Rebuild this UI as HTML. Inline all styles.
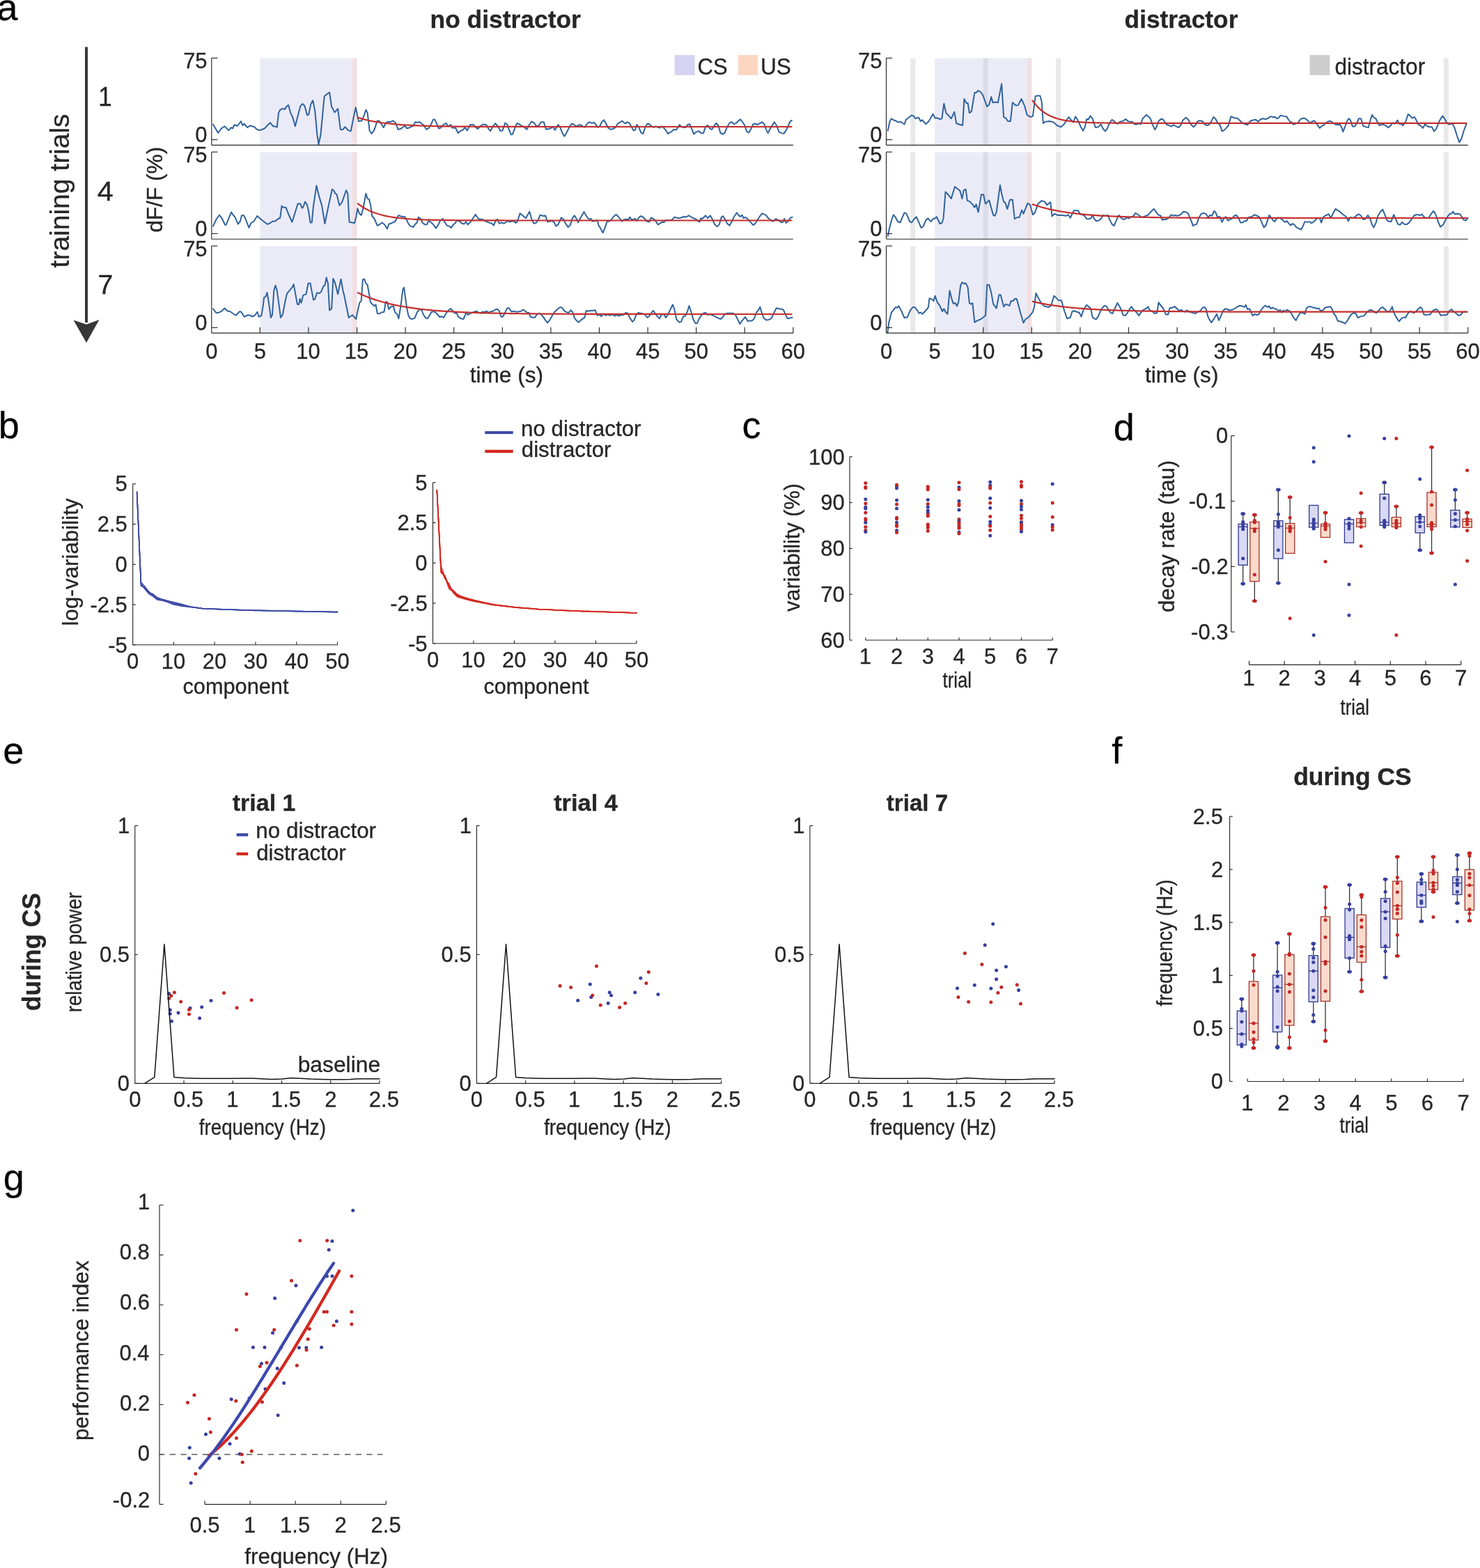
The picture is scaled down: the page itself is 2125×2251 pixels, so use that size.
<!DOCTYPE html>
<html><head><meta charset="utf-8"><title>figure</title>
<style>
html,body{margin:0;padding:0;background:#fff;}
svg{display:block;}
text{font-family:"Liberation Sans",Arial,Helvetica,sans-serif;stroke:#262626;stroke-width:0.3px;}
</style></head>
<body>
<svg width="2125" height="2251" viewBox="0 0 2125 2251">
<rect x="0" y="0" width="2125" height="2251" fill="#fff"/>
<text x="-4.63" y="29" font-size="54" fill="#000">a</text>
<rect x="373.38" y="83.65" width="132.21" height="124.7" fill="#ebebf8"/>
<rect x="505.6" y="83.65" width="6.96" height="124.7" fill="#f1dfe3"/>
<rect x="373.38" y="218.5" width="132.21" height="124.7" fill="#ebebf8"/>
<rect x="505.6" y="218.5" width="6.96" height="124.7" fill="#f1dfe3"/>
<rect x="373.38" y="353.4" width="132.21" height="124.7" fill="#ebebf8"/>
<rect x="505.6" y="353.4" width="6.96" height="124.7" fill="#f1dfe3"/>
<rect x="1342.1" y="83.65" width="132.24" height="124.7" fill="#ebebf8"/>
<rect x="1474.34" y="83.65" width="6.96" height="124.7" fill="#f1dfe3"/>
<rect x="1307.3" y="83.65" width="6.96" height="124.7" fill="#e9e9ea"/>
<rect x="1516.1" y="83.65" width="6.96" height="124.7" fill="#e9e9ea"/>
<rect x="2072.9" y="83.65" width="6.96" height="124.7" fill="#e9e9ea"/>
<rect x="1411.7" y="83.65" width="6.96" height="124.7" fill="#dcdce9"/>
<rect x="1342.1" y="218.5" width="132.24" height="124.7" fill="#ebebf8"/>
<rect x="1474.34" y="218.5" width="6.96" height="124.7" fill="#f1dfe3"/>
<rect x="1307.3" y="218.5" width="6.96" height="124.7" fill="#e9e9ea"/>
<rect x="1516.1" y="218.5" width="6.96" height="124.7" fill="#e9e9ea"/>
<rect x="2072.9" y="218.5" width="6.96" height="124.7" fill="#e9e9ea"/>
<rect x="1411.7" y="218.5" width="6.96" height="124.7" fill="#dcdce9"/>
<rect x="1342.1" y="353.4" width="132.24" height="124.7" fill="#ebebf8"/>
<rect x="1474.34" y="353.4" width="6.96" height="124.7" fill="#f1dfe3"/>
<rect x="1307.3" y="353.4" width="6.96" height="124.7" fill="#e9e9ea"/>
<rect x="1516.1" y="353.4" width="6.96" height="124.7" fill="#e9e9ea"/>
<rect x="2072.9" y="353.4" width="6.96" height="124.7" fill="#e9e9ea"/>
<rect x="1411.7" y="353.4" width="6.96" height="124.7" fill="#dcdce9"/>
<polyline points="305.97,178.51 313.13,190.75 317.91,184.48 322.39,181.19 328.36,187.16 332.09,182.99 334.03,184.48 336.57,179.25 341.04,180.75 345.97,174.03 348.51,180 350.75,177.76 355.22,182.99 358.96,180.3 362.69,181.49 365.67,182.24 367.91,185.22 370.9,186.72 374.63,186.72 377.61,185.22 379.85,184.48 383.58,180.3 388.06,176.27 392.54,181.49 395.52,181.49 397.76,182.69 400,162.09 402.24,157.61 405.97,155.82 408.96,156.87 411.19,153.13 414.18,150.9 417.16,162.09 420.15,168.06 423.88,181.19 428.36,163.58 431.34,152.39 434.33,148.96 437.31,151.64 441.04,165.37 443.28,164.33 446.27,149.4 449.25,144.18 452.24,159.1 455.22,191.94 457.46,207.16 460.45,193.43 463.43,162.09 465.67,138.21 470.15,134.48 473.13,132.54 476.12,153.13 480.6,161.34 485.07,156.12 488.81,185.97 491.79,186.27 495.52,182.24 500,187.16 503.73,188.21 507.46,169.55 510.75,154.18 514.93,174.33 519.4,173.28 522.39,166.57 525.37,157.61 527.61,162.09 530.6,187.46 533.58,191.94 537.31,186.72 541.79,173.28 544.78,174.03 547.76,178.51 550.75,182.99 553.73,177.01 556.72,174.78 559.7,175.52 564.18,173.28 567.91,176.27 571.64,185.97 576.12,184.48 580,181.49 581.08,180.05 584.12,184.31 587.15,183.55 590.19,182.03 593.23,180.51 596.27,175.19 599.31,175.95 602.35,174.89 605.38,177.47 608.42,179.75 612.22,185.83 616.02,183.55 619.06,178.23 622.09,171.39 624.37,171.85 627.41,178.23 629.69,184.31 632.73,183.55 635.77,179.75 640.33,176.71 643.36,181.27 647.16,178.99 649.44,183.55 654,183.55 657.8,191.14 660.83,188.11 664.63,186.59 667.67,182.79 670.71,187.35 675.27,178.99 679.82,178.99 682.86,182.79 685.9,185.07 690.46,180.51 693.5,178.53 698.05,178.99 701.09,184.31 704.13,188.11 707.17,182.79 710.97,177.01 714.77,181.27 718.56,188.11 721.6,187.35 725.4,176.41 728.44,178.99 730.72,185.83 733.76,193.42 736.03,192.66 739.07,184.31 742.11,177.01 745.15,178.23 748.95,180.51 752.75,182.79 756.54,185.83 759.58,179.75 763.38,174.43 767.18,176.71 770.22,181.27 773.25,180.51 777.05,175.19 780.85,175.19 783.89,185.83 786.93,185.07 790.72,184.31 793.76,182.03 796.8,186.59 801.36,178.99 804.4,182.79 807.44,191.14 810.47,195.7 813.51,190.38 818.07,181.27 821.11,177.47 824.15,178.99 827.95,181.27 831.74,178.99 835.54,180.51 839.34,182.79 842.38,178.23 846.18,175.19 849.21,176.71 853.01,175.95 856.81,180.51 858.04,182.79 861.08,181.27 864.12,175.19 867.15,172.15 870.19,177.47 873.23,183.55 877.03,185.83 880.07,185.07 883.86,182.79 886.9,177.47 889.94,175.95 892.98,173.67 896.02,175.95 898.3,177.47 900.58,175.19 903.61,176.71 906.65,182.03 909.69,187.35 911.97,186.59 914.25,178.99 917.29,182.79 920.33,190.38 923.36,191.9 926.4,182.79 929.44,177.47 932.48,178.23 935.52,181.27 938.56,182.79 941.59,181.27 944.63,182.79 947.67,183.55 950.71,181.27 953.75,184.31 956.79,188.11 959.06,191.9 961.34,190.38 964.38,188.86 967.42,185.83 970.46,186.59 973.5,182.79 975.78,178.99 978.05,182.03 981.09,182.79 984.13,183.09 987.17,178.99 990.21,178.23 993.25,185.07 996.28,192.66 999.32,189.62 1003.12,188.11 1006.92,191.14 1009.96,191.14 1013,182.03 1016.03,179.75 1019.07,184.31 1022.11,185.83 1025.15,181.27 1028.19,176.71 1031.23,179.75 1034.26,190.38 1037.3,192.66 1040.34,191.14 1044.14,182.03 1047.94,175.95 1050.98,175.19 1054.01,178.23 1057.05,176.71 1060.09,173.67 1063.13,171.39 1066.17,175.19 1069.21,179.75 1072.24,188.86 1075.28,190.38 1078.32,185.07 1081.36,178.23 1084.4,177.47 1087.44,178.99 1090.47,177.47 1094.27,175.19 1097.31,178.23 1100.35,186.59 1102.63,191.14 1105.67,185.07 1111.74,175.19 1114.78,179.75 1118.58,189.62 1122.38,191.14 1125.42,191.9 1128.45,187.35 1131.49,181.27 1134.53,174.43 1136.81,172.91" fill="none" stroke="#30639c" stroke-width="2" stroke-linejoin="round" stroke-linecap="round"/>
<polyline points="513.73,168.81 517.21,169.86 520.69,170.83 524.17,171.72 527.65,172.55 531.13,173.3 534.61,174 538.09,174.64 541.57,175.23 545.04,175.77 548.52,176.27 552,176.72 555.48,177.15 558.96,177.53 562.44,177.89 565.92,178.22 569.4,178.52 572.88,178.8 576.36,179.06 579.84,179.29 583.32,179.51 586.8,179.71 590.27,179.89 593.75,180.06 597.23,180.21 600.71,180.36 604.19,180.49 607.67,180.61 611.15,180.72 614.63,180.82 618.11,180.92 621.59,181 625.07,181.08 628.55,181.16 632.03,181.22 635.51,181.29 638.98,181.34 642.46,181.4 645.94,181.44 649.42,181.49 652.9,181.53 656.38,181.57 659.86,181.6 663.34,181.63 666.82,181.66 670.3,181.69 673.78,181.71 677.26,181.74 680.74,181.76 684.21,181.78 687.69,181.8 691.17,181.81 694.65,181.83 698.13,181.84 701.61,181.85 705.09,181.87 708.57,181.88 712.05,181.89 715.53,181.89 719.01,181.9 722.49,181.91 725.97,181.92 729.44,181.92 732.92,181.93 736.4,181.94 739.88,181.94 743.36,181.95 746.84,181.95 750.32,181.95 753.8,181.96 757.28,181.96 760.76,181.96 764.24,181.97 767.72,181.97 771.2,181.97 774.68,181.97 778.15,181.98 781.63,181.98 785.11,181.98 788.59,181.98 792.07,181.98 795.55,181.98 799.03,181.99 802.51,181.99 805.99,181.99 809.47,181.99 812.95,181.99 816.43,181.99 819.91,181.99 823.38,181.99 826.86,181.99 830.34,181.99 833.82,181.99 837.3,181.99 840.78,181.99 844.26,182 847.74,182 851.22,182 854.7,182 858.18,182 861.66,182 865.14,182 868.61,182 872.09,182 875.57,182 879.05,182 882.53,182 886.01,182 889.49,182 892.97,182 896.45,182 899.93,182 903.41,182 906.89,182 910.37,182 913.85,182 917.32,182 920.8,182 924.28,182 927.76,182 931.24,182 934.72,182 938.2,182 941.68,182 945.16,182 948.64,182 952.12,182 955.6,182 959.08,182 962.55,182 966.03,182 969.51,182 972.99,182 976.47,182 979.95,182 983.43,182 986.91,182 990.39,182 993.87,182 997.35,182 1000.83,182 1004.31,182 1007.78,182 1011.26,182 1014.74,182 1018.22,182 1021.7,182 1025.18,182 1028.66,182 1032.14,182 1035.62,182 1039.1,182 1042.58,182 1046.06,182 1049.54,182 1053.02,182 1056.49,182 1059.97,182 1063.45,182 1066.93,182 1070.41,182 1073.89,182 1077.37,182 1080.85,182 1084.33,182 1087.81,182 1091.29,182 1094.77,182 1098.25,182 1101.72,182 1105.2,182 1108.68,182 1112.16,182 1115.64,182 1119.12,182 1122.6,182 1126.08,182 1129.56,182 1133.04,182 1136.52,182" fill="none" stroke="#c42e2c" stroke-width="2.2" stroke-linejoin="round" stroke-linecap="round"/>
<polyline points="305.97,324.7 310.45,315 314.93,308.73 318.66,313.51 323.13,322.76 324.63,322.76 328.36,313.51 332.09,304.55 335.07,309.03 337.31,311.27 341.79,321.72 344.78,317.99 347.01,309.33 350,309.33 352.24,313.51 357.46,326.94 360.45,320.22 364.18,317.99 369.4,310.07 373.13,313.51 377.61,317.24 383.58,321.72 386.57,320.97 391.04,317.99 395.52,317.24 399.25,314.25 402.24,312.76 404.48,295.6 406.72,297.84 410.45,297.84 414.93,309.03 419.4,318.73 423.88,304.55 427.61,292.61 431.34,292.61 433.58,298.58 435.07,297.84 438.06,289.63 441.04,294.1 443.28,304.55 445.52,319.48 447.76,319.48 450,295.6 454.48,266.49 457.46,279.18 460.45,289.63 461.94,294.1 466.42,320.97 471.64,295.6 476.87,271.72 479.1,273.21 481.34,277.69 483.58,279.18 487.31,294.85 491.04,290.37 497.01,273.21 499.25,277.69 501.49,318.73 505.22,319.48 508.96,320.22 511.19,312.01 513.43,299.33 515.67,306.04 518.66,309.03 521.64,298.58 525.37,277.69 527.61,285.15 529.85,285.9 532.09,294.1 534.33,310.52 537.31,313.51 541.79,323.96 544.78,322.46 548.51,319.48 552.24,322.46 555.97,328.43 558.21,321.72 562.69,320.22 567.16,317.99 572.39,309.03 575.37,310.52 580,311.27 581.08,310.95 584.12,316.27 587.15,322.35 589.43,324.62 593.23,326.14 596.27,321.59 598.55,320.07 600.83,311.71 603.86,313.99 606.9,320.07 609.94,322.35 612.98,322.35 615.26,317.03 618.3,318.55 622.09,322.35 625.89,327.66 628.93,323.11 631.97,317.03 635.77,313.99 638.81,319.31 641.84,323.86 644.88,324.62 647.92,326.9 650.96,322.35 654,320.07 655.52,316.27 660.07,317.79 663.11,320.83 666.15,321.59 669.19,318.55 671.47,322.35 675.27,319.31 679.06,313.23 682.86,307.91 686.66,313.99 689.7,314.75 692.74,314.75 695.78,317.03 699.57,318.55 703.37,320.07 706.41,320.83 708.69,323.56 711.73,317.03 714.01,314.75 717.04,320.83 720.08,319.31 723.12,320.83 726.16,319.31 728.44,317.03 731.48,318.55 734.51,317.79 738.31,317.79 740.59,320.07 742.87,317.79 746.67,306.39 750.47,309.43 755.02,313.23 760.34,303.81 763.38,314.75 766.42,320.83 769.46,320.07 772.49,316.27 775.53,308.67 778.57,309.43 780.85,310.19 783.13,309.43 786.17,318.55 789.21,317.79 792.24,317.03 795.28,318.55 798.32,324.62 801.36,322.35 805.92,312.47 808.96,314.75 811.99,320.83 815.79,326.14 818.83,323.11 821.87,313.23 824.91,309.43 827.19,313.23 830.22,319.31 833.26,313.23 838.58,304.12 842.38,310.95 845.42,314.75 848.45,313.99 850.73,317.79 854.53,317.03 857.57,316.27 859.56,323.86 861.84,326.9 865.63,334.2 868.67,326.9 871.71,317.79 874.75,317.79 877.79,315.51 880.83,310.95 884.62,307.91 887.66,310.95 890.7,314.75 892.98,317.79 895.26,315.51 899.06,314.75 902.09,315.51 904.37,311.71 906.65,315.51 909.69,314.75 911.97,313.99 914.25,317.03 917.29,312.47 919.57,310.19 922.6,310.95 925.64,313.99 928.68,317.79 932.48,318.55 934.76,312.47 937.8,313.99 940.83,316.27 944.63,322.35 947.67,320.83 950.71,318.55 952.99,319.31 956.03,316.27 959.82,316.27 962.86,316.27 965.9,314.75 968.18,311.71 971.22,312.47 975.02,313.23 978.05,312.47 981.85,310.95 984.89,311.71 989.45,309.43 992.49,311.71 995.53,313.23 999.32,314.75 1001.6,317.03 1004.64,318.55 1006.16,313.23 1008.44,313.99 1013,309.43 1016.03,313.23 1019.83,309.43 1022.87,314.75 1025.91,321.59 1029.71,325.38 1032.75,322.35 1035.78,311.71 1038.06,310.19 1041.1,314.75 1044.14,320.83 1047.18,323.86 1050.22,319.31 1054.01,310.95 1057.81,305.33 1060.85,309.43 1063.13,310.95 1065.41,308.67 1067.69,313.23 1069.97,311.71 1073,313.99 1076.8,317.79 1081.36,323.11 1084.4,320.83 1088.2,314.75 1091.23,310.19 1094.27,306.39 1097.31,307.91 1099.59,308.67 1101.87,311.71 1105.67,315.51 1110.22,317.79 1114.02,313.99 1117.82,316.27 1121.62,319.31 1124.66,318.55 1126.18,313.99 1128.45,320.07 1131.49,317.79 1134.53,313.23 1137.57,311.71" fill="none" stroke="#30639c" stroke-width="2" stroke-linejoin="round" stroke-linecap="round"/>
<polyline points="513.73,292.31 517.21,294.91 520.69,297.23 524.17,299.3 527.65,301.15 531.13,302.8 534.61,304.27 538.09,305.58 541.57,306.76 545.04,307.8 548.52,308.74 552,309.57 555.48,310.31 558.96,310.98 562.44,311.57 565.92,312.1 569.4,312.57 572.88,313 576.36,313.37 579.84,313.71 583.32,314.01 586.8,314.28 590.27,314.51 593.75,314.73 597.23,314.92 600.71,315.09 604.19,315.24 607.67,315.38 611.15,315.5 614.63,315.6 618.11,315.7 621.59,315.79 625.07,315.86 628.55,315.93 632.03,315.99 635.51,316.05 638.98,316.1 642.46,316.14 645.94,316.18 649.42,316.21 652.9,316.24 656.38,316.27 659.86,316.3 663.34,316.32 666.82,316.34 670.3,316.35 673.78,316.37 677.26,316.38 680.74,316.4 684.21,316.41 687.69,316.42 691.17,316.43 694.65,316.43 698.13,316.44 701.61,316.45 705.09,316.45 708.57,316.46 712.05,316.46 715.53,316.47 719.01,316.47 722.49,316.47 725.97,316.48 729.44,316.48 732.92,316.48 736.4,316.48 739.88,316.49 743.36,316.49 746.84,316.49 750.32,316.49 753.8,316.49 757.28,316.49 760.76,316.49 764.24,316.49 767.72,316.49 771.2,316.49 774.68,316.5 778.15,316.5 781.63,316.5 785.11,316.5 788.59,316.5 792.07,316.5 795.55,316.5 799.03,316.5 802.51,316.5 805.99,316.5 809.47,316.5 812.95,316.5 816.43,316.5 819.91,316.5 823.38,316.5 826.86,316.5 830.34,316.5 833.82,316.5 837.3,316.5 840.78,316.5 844.26,316.5 847.74,316.5 851.22,316.5 854.7,316.5 858.18,316.5 861.66,316.5 865.14,316.5 868.61,316.5 872.09,316.5 875.57,316.5 879.05,316.5 882.53,316.5 886.01,316.5 889.49,316.5 892.97,316.5 896.45,316.5 899.93,316.5 903.41,316.5 906.89,316.5 910.37,316.5 913.85,316.5 917.32,316.5 920.8,316.5 924.28,316.5 927.76,316.5 931.24,316.5 934.72,316.5 938.2,316.5 941.68,316.5 945.16,316.5 948.64,316.5 952.12,316.5 955.6,316.5 959.08,316.5 962.55,316.5 966.03,316.5 969.51,316.5 972.99,316.5 976.47,316.5 979.95,316.5 983.43,316.5 986.91,316.5 990.39,316.5 993.87,316.5 997.35,316.5 1000.83,316.5 1004.31,316.5 1007.78,316.5 1011.26,316.5 1014.74,316.5 1018.22,316.5 1021.7,316.5 1025.18,316.5 1028.66,316.5 1032.14,316.5 1035.62,316.5 1039.1,316.5 1042.58,316.5 1046.06,316.5 1049.54,316.5 1053.02,316.5 1056.49,316.5 1059.97,316.5 1063.45,316.5 1066.93,316.5 1070.41,316.5 1073.89,316.5 1077.37,316.5 1080.85,316.5 1084.33,316.5 1087.81,316.5 1091.29,316.5 1094.77,316.5 1098.25,316.5 1101.72,316.5 1105.2,316.5 1108.68,316.5 1112.16,316.5 1115.64,316.5 1119.12,316.5 1122.6,316.5 1126.08,316.5 1129.56,316.5 1133.04,316.5 1136.52,316.5" fill="none" stroke="#c42e2c" stroke-width="2.2" stroke-linejoin="round" stroke-linecap="round"/>
<polyline points="305.97,443.28 310.45,449.25 314.93,448.51 318.66,446.27 322.39,442.54 326.87,446.72 329.85,446.72 334.33,450 338.81,452.69 344.03,447.31 346.27,447.76 350.75,454.78 355.97,452.24 359.7,452.99 362.69,454.48 365.67,452.99 369.4,447.76 371.64,454.78 375.37,452.99 377.61,439.55 379.1,426.87 381.34,426.12 383.58,420.15 385.82,433.58 388.81,455.97 391.04,451.49 393.28,417.16 395.52,409.7 397.76,417.16 400,433.58 402.99,455.97 405.97,451.49 408.96,435.07 411.94,421.64 415.67,417.16 419.4,412.69 421.64,408.21 423.88,420.15 426.87,436.57 429.1,437.31 430.6,429.1 432.54,434.78 434.33,427.61 435.07,423.88 439.55,422.39 442.54,406.72 445.52,406.72 447.76,418.66 450,430.6 452.24,429.1 455.22,420.15 458.96,420.9 461.19,418.66 464.18,411.19 466.42,409.7 468.66,398.51 470.9,406.72 473.13,445.52 476.12,443.28 478.36,400 481.34,406.72 485.07,422.39 489.55,400.75 492.54,417.91 494.03,423.13 497.01,438.06 500.75,455.97 505.97,452.24 511.19,458.21 513.43,447.01 516.42,434.33 518.66,432.09 520.9,401.49 523.13,400.75 525.37,406.72 527.61,408.96 530.6,425.37 532.09,434.33 537.31,439.25 539.55,437.31 541.79,450 544.78,450.3 547.76,448.51 551.49,447.76 553.73,433.58 555.97,433.58 558.21,444.03 561.19,440.3 564.93,439.55 567.16,448.51 570.15,450.75 572.39,457.46 575.37,439.55 578.36,415.67 580,412.69 584.12,442.15 586.39,452.79 588.67,457.04 591.71,458.11 595.51,456.59 599.31,447.47 602.35,444.43 605.38,444.43 607.66,451.27 611.46,456.59 613.74,457.35 616.78,452.79 619.82,447.47 623.61,447.47 626.65,449.75 628.93,452.03 631.21,455.07 634.25,454.31 637.29,455.83 639.57,451.27 643.36,445.95 647.16,442.91 650.2,446.71 653.24,449.75 655.52,448.99 657.8,454.31 661.59,457.35 665.39,458.11 667.67,452.79 669.19,448.99 672.23,452.03 675.27,449.75 678.3,448.99 681.34,447.47 684.38,446.71 687.42,448.99 690.46,449.75 692.74,447.47 695.78,448.23 698.81,446.71 701.09,448.99 704.13,447.47 707.93,446.71 710.97,444.43 714.01,443.67 717.04,446.71 719.32,454.31 721.6,455.07 723.12,452.79 726.16,446.71 728.44,442.15 730.72,442.15 734.51,447.47 737.55,446.71 740.59,447.47 743.63,447.47 748.19,446.71 751.23,444.43 754.26,446.71 757.3,448.99 759.58,448.99 761.86,455.07 764.9,455.83 767.94,455.83 770.98,451.27 774.01,449.75 777.05,451.27 780.09,455.07 783.13,459.62 786.17,463.42 789.21,459.62 792.24,454.31 795.28,448.99 798.32,445.95 801.36,442.91 805.16,440.94 807.44,442.15 810.47,446.71 813.51,448.23 816.55,448.99 819.59,445.19 822.63,448.99 824.91,456.59 827.95,460.38 830.98,462.66 834.02,459.62 837.06,457.35 839.34,455.83 841.62,445.95 844.66,446.71 847.69,445.95 850.73,445.95 854.53,445.19 857.57,452.79 860.32,451.27 863.36,454.31 866.39,450.51 869.43,452.79 872.47,451.27 875.51,452.79 879.31,451.27 882.35,453.55 885.38,452.03 888.42,453.55 892.22,452.03 895.26,452.03 898.3,448.99 901.34,449.75 904.37,456.59 908.17,461.9 910.45,459.62 913.49,452.03 916.53,448.99 919.57,449.75 922.6,450.51 925.64,451.27 929.44,455.83 932.48,453.55 935.52,448.99 937.8,445.95 940.07,448.99 943.11,453.55 946.91,457.35 949.95,451.27 952.99,451.27 956.03,455.83 959.06,451.27 962.86,443.67 965.9,437.29 968.18,443.67 971.22,458.11 975.02,462.66 978.05,461.9 981.09,454.31 984.13,453.55 987.17,446.71 989.45,439.12 992.49,448.23 995.53,458.86 998.56,464.18 1000.84,464.18 1003.88,457.35 1006.92,452.79 1009.96,449.75 1013,448.99 1016.03,452.03 1019.07,451.27 1022.11,452.03 1025.15,453.55 1028.19,455.07 1031.23,456.59 1034.26,458.11 1037.3,455.83 1041.1,450.51 1044.9,449.75 1048.7,449.75 1052.49,449.75 1055.53,451.27 1058.57,457.35 1062.37,464.94 1066.17,459.62 1069.97,455.07 1073.76,461.14 1076.8,460.38 1079.84,460.38 1082.88,457.35 1085.92,448.99 1088.96,445.19 1091.23,440.63 1093.51,448.23 1096.55,456.59 1100.35,459.62 1104.15,458.86 1107.95,456.59 1110.98,449.75 1114.78,442.15 1117.82,442.91 1121.62,443.67 1124.66,444.43 1127.69,451.27 1130.73,457.35 1134.53,456.59 1137.57,455.83" fill="none" stroke="#30639c" stroke-width="2" stroke-linejoin="round" stroke-linecap="round"/>
<polyline points="513.73,420.15 517.21,421.82 520.69,423.39 524.17,424.89 527.65,426.3 531.13,427.63 534.61,428.89 538.09,430.09 541.57,431.22 545.04,432.29 548.52,433.3 552,434.26 555.48,435.16 558.96,436.02 562.44,436.83 565.92,437.59 569.4,438.32 572.88,439 576.36,439.65 579.84,440.26 583.32,440.84 586.8,441.39 590.27,441.91 593.75,442.4 597.23,442.87 600.71,443.31 604.19,443.72 607.67,444.12 611.15,444.49 614.63,444.84 618.11,445.17 621.59,445.49 625.07,445.79 628.55,446.07 632.03,446.33 635.51,446.59 638.98,446.82 642.46,447.05 645.94,447.26 649.42,447.47 652.9,447.66 656.38,447.84 659.86,448.01 663.34,448.17 666.82,448.32 670.3,448.47 673.78,448.6 677.26,448.73 680.74,448.86 684.21,448.97 687.69,449.08 691.17,449.19 694.65,449.28 698.13,449.38 701.61,449.46 705.09,449.55 708.57,449.63 712.05,449.7 715.53,449.77 719.01,449.84 722.49,449.9 725.97,449.96 729.44,450.02 732.92,450.07 736.4,450.12 739.88,450.17 743.36,450.21 746.84,450.25 750.32,450.29 753.8,450.33 757.28,450.37 760.76,450.4 764.24,450.43 767.72,450.47 771.2,450.49 774.68,450.52 778.15,450.55 781.63,450.57 785.11,450.6 788.59,450.62 792.07,450.64 795.55,450.66 799.03,450.68 802.51,450.69 805.99,450.71 809.47,450.73 812.95,450.74 816.43,450.75 819.91,450.77 823.38,450.78 826.86,450.79 830.34,450.8 833.82,450.81 837.3,450.82 840.78,450.83 844.26,450.84 847.74,450.85 851.22,450.86 854.7,450.87 858.18,450.87 861.66,450.88 865.14,450.89 868.61,450.89 872.09,450.9 875.57,450.9 879.05,450.91 882.53,450.91 886.01,450.92 889.49,450.92 892.97,450.93 896.45,450.93 899.93,450.94 903.41,450.94 906.89,450.94 910.37,450.95 913.85,450.95 917.32,450.95 920.8,450.95 924.28,450.96 927.76,450.96 931.24,450.96 934.72,450.96 938.2,450.96 941.68,450.97 945.16,450.97 948.64,450.97 952.12,450.97 955.6,450.97 959.08,450.97 962.55,450.98 966.03,450.98 969.51,450.98 972.99,450.98 976.47,450.98 979.95,450.98 983.43,450.98 986.91,450.98 990.39,450.98 993.87,450.99 997.35,450.99 1000.83,450.99 1004.31,450.99 1007.78,450.99 1011.26,450.99 1014.74,450.99 1018.22,450.99 1021.7,450.99 1025.18,450.99 1028.66,450.99 1032.14,450.99 1035.62,450.99 1039.1,450.99 1042.58,450.99 1046.06,450.99 1049.54,450.99 1053.02,450.99 1056.49,450.99 1059.97,450.99 1063.45,451 1066.93,451 1070.41,451 1073.89,451 1077.37,451 1080.85,451 1084.33,451 1087.81,451 1091.29,451 1094.77,451 1098.25,451 1101.72,451 1105.2,451 1108.68,451 1112.16,451 1115.64,451 1119.12,451 1122.6,451 1126.08,451 1129.56,451 1133.04,451 1136.52,451" fill="none" stroke="#c42e2c" stroke-width="2.2" stroke-linejoin="round" stroke-linecap="round"/>
<polyline points="1274.72,187.46 1277.7,174.03 1279.94,170.3 1282.93,172.24 1286.66,173.73 1289.64,175.52 1293.37,174.78 1296.36,177.01 1298.6,178.51 1300.84,171.79 1303.82,169.55 1309.04,165.52 1312.03,166.57 1314.27,170.3 1317.25,168.81 1319.49,169.55 1321.73,174.03 1323.97,172.24 1329.19,178.21 1333.67,174.03 1336.66,168.81 1339.64,163.58 1342.63,169.55 1345.61,169.25 1349.34,171.04 1352.33,170.3 1355.31,148.66 1358.3,162.09 1362.03,165.82 1365.76,170.3 1370.24,160.6 1373.22,177.01 1376.96,178.51 1382.18,180 1384.42,141.94 1387.4,147.91 1389.64,147.91 1391.88,162.09 1394.87,159.85 1399.34,132.99 1401.58,132.99 1404.57,130 1408.3,132.24 1411.28,136.72 1417.25,153.13 1420.24,150.15 1423.22,138.96 1425.46,147.16 1429.19,146.42 1432.93,147.16 1438.15,120.3 1441.13,168.06 1444.12,169.55 1447.1,174.03 1450.84,174.03 1453.82,147.16 1459.04,151.64 1462.03,150.9 1466.51,141.94 1470.99,151.64 1474.72,165.07 1479.94,168.06 1482.93,166.57 1486.66,138.21 1488.9,137.46 1493.37,137.46 1495.61,145.67 1497.85,177.01 1500.84,174.78 1506.81,174.03 1512.78,175.52 1518,180.3 1523.22,182.24 1527.7,178.51 1534.42,168.06 1538.15,172.54 1541.13,175.52 1544.12,167.31 1548,173.28 1551.84,182.35 1555.33,187.66 1557.91,181.59 1560.19,170.95 1562.47,171.71 1565.51,166.39 1568.55,170.19 1570.83,177.03 1573.11,183.11 1576.9,182.35 1580.7,178.55 1583.74,184.62 1586.78,188.42 1589.82,184.62 1592.85,177.03 1596.65,171.71 1599.69,173.99 1601.97,176.27 1605.01,177.79 1608.05,174.75 1611.84,173.99 1616.4,170.95 1619.44,173.99 1622.48,174.75 1625.52,174.75 1629.32,178.55 1632.35,178.55 1635.39,177.03 1637.67,178.55 1640.71,170.19 1646.03,164.87 1649.82,167.91 1652.1,170.95 1654.38,177.79 1658.18,186.14 1660.46,182.35 1663.5,173.99 1666.54,170.95 1669.57,170.95 1672.61,175.51 1675.65,179.31 1678.69,180.07 1681.73,181.59 1684.77,179.31 1687.8,180.83 1692.36,183.11 1695.4,179.31 1698.44,172.47 1703,168.67 1706.03,171.71 1709.83,178.55 1713.63,182.35 1716.67,179.31 1719.71,173.99 1722.75,173.23 1726.54,173.99 1729.58,178.55 1733.38,180.07 1736.42,178.55 1739.46,173.99 1742.49,167.91 1745.53,170.95 1748.57,177.03 1751.61,179.31 1754.65,188.42 1757.69,186.9 1760.72,183.86 1763.76,180.07 1767.56,167.15 1772.12,169.43 1775.92,169.43 1779.71,172.47 1783.51,176.27 1786.55,177.79 1791.11,179.31 1794.91,173.99 1798.7,172.47 1803.26,171.71 1806.3,174.75 1809.34,171.71 1813.14,170.19 1816.93,170.95 1819.97,170.19 1824.53,167.15 1827.57,167.91 1828.04,167.91 1831.08,167.91 1833.36,170.19 1835.63,169.43 1838.67,165.63 1841.71,166.39 1844.75,167.15 1847.03,167.15 1850.07,171.71 1852.35,174.75 1854.62,175.51 1856.9,178.55 1859.94,177.79 1863.74,176.27 1866.78,171.71 1869.06,170.19 1872.09,169.43 1875.13,170.95 1878.17,173.23 1880.45,177.03 1883.49,174.75 1887.29,173.23 1889.57,176.27 1892.6,180.83 1894.88,183.86 1897.92,180.83 1900.96,179.31 1904,176.27 1907.8,173.99 1910.83,173.99 1913.87,176.27 1916.91,178.55 1920.71,179.31 1923.75,178.55 1926.79,183.86 1928.3,189.18 1931.34,181.59 1934.38,173.23 1936.66,170.19 1938.94,172.47 1941.98,181.59 1945.02,181.59 1948.05,177.03 1951.09,170.19 1954.13,170.19 1957.17,180.83 1961.73,182.35 1964.77,183.11 1967.8,171.71 1970.08,164.87 1972.36,168.67 1975.4,170.19 1978.44,177.03 1980.72,180.07 1983.76,178.55 1987.55,179.31 1990.59,180.83 1993.63,183.11 1996.67,180.07 1999.71,176.27 2002.75,177.79 2006.54,172.47 2008.82,177.79 2011.86,177.79 2014.14,180.07 2017.94,175.51 2021.74,164.12 2024.77,166.39 2027.81,169.43 2030.85,167.91 2033.13,171.71 2036.17,178.55 2039.21,180.07 2043,183.86 2046.04,178.55 2049.08,180.83 2052.12,182.35 2055.92,182.35 2058.96,188.42 2061.99,185.38 2066.55,173.99 2071.11,166.39 2074.15,170.19 2077.19,176.27 2080.22,178.55 2083.26,177.79 2085.54,177.79 2088.58,183.86 2092.38,196.02 2095.42,204.37 2098.45,199.06 2101.49,188.42 2105.29,178.55" fill="none" stroke="#30639c" stroke-width="2" stroke-linejoin="round" stroke-linecap="round"/>
<polyline points="1482.63,144.48 1486.11,149.15 1489.59,153.15 1493.07,156.57 1496.55,159.5 1500.03,162 1503.51,164.14 1506.99,165.97 1510.47,167.54 1513.95,168.88 1517.43,170.02 1520.91,171 1524.39,171.84 1527.87,172.56 1531.35,173.17 1534.83,173.7 1538.31,174.15 1541.79,174.53 1545.27,174.86 1548.75,175.14 1552.23,175.38 1555.71,175.59 1559.19,175.76 1562.67,175.91 1566.15,176.04 1569.63,176.15 1573.11,176.24 1576.59,176.32 1580.07,176.39 1583.55,176.45 1587.03,176.5 1590.51,176.55 1593.99,176.58 1597.47,176.61 1600.95,176.64 1604.43,176.66 1607.91,176.68 1611.39,176.7 1614.87,176.71 1618.35,176.73 1621.83,176.74 1625.31,176.75 1628.79,176.75 1632.27,176.76 1635.75,176.77 1639.23,176.77 1642.71,176.78 1646.19,176.78 1649.67,176.78 1653.15,176.78 1656.63,176.79 1660.11,176.79 1663.59,176.79 1667.07,176.79 1670.55,176.79 1674.03,176.79 1677.51,176.79 1680.99,176.8 1684.47,176.8 1687.95,176.8 1691.43,176.8 1694.91,176.8 1698.39,176.8 1701.87,176.8 1705.35,176.8 1708.83,176.8 1712.31,176.8 1715.79,176.8 1719.27,176.8 1722.75,176.8 1726.23,176.8 1729.71,176.8 1733.19,176.8 1736.67,176.8 1740.15,176.8 1743.63,176.8 1747.11,176.8 1750.59,176.8 1754.07,176.8 1757.55,176.8 1761.03,176.8 1764.51,176.8 1767.99,176.8 1771.47,176.8 1774.95,176.8 1778.43,176.8 1781.91,176.8 1785.39,176.8 1788.87,176.8 1792.35,176.8 1795.83,176.8 1799.31,176.8 1802.79,176.8 1806.27,176.8 1809.75,176.8 1813.23,176.8 1816.71,176.8 1820.19,176.8 1823.67,176.8 1827.15,176.8 1830.63,176.8 1834.11,176.8 1837.59,176.8 1841.07,176.8 1844.55,176.8 1848.03,176.8 1851.51,176.8 1854.99,176.8 1858.47,176.8 1861.95,176.8 1865.43,176.8 1868.91,176.8 1872.39,176.8 1875.87,176.8 1879.35,176.8 1882.83,176.8 1886.31,176.8 1889.79,176.8 1893.27,176.8 1896.75,176.8 1900.23,176.8 1903.71,176.8 1907.19,176.8 1910.67,176.8 1914.15,176.8 1917.63,176.8 1921.11,176.8 1924.59,176.8 1928.07,176.8 1931.55,176.8 1935.03,176.8 1938.51,176.8 1941.99,176.8 1945.47,176.8 1948.95,176.8 1952.43,176.8 1955.91,176.8 1959.39,176.8 1962.87,176.8 1966.35,176.8 1969.83,176.8 1973.31,176.8 1976.79,176.8 1980.27,176.8 1983.75,176.8 1987.23,176.8 1990.71,176.8 1994.19,176.8 1997.67,176.8 2001.15,176.8 2004.63,176.8 2008.11,176.8 2011.59,176.8 2015.07,176.8 2018.55,176.8 2022.03,176.8 2025.51,176.8 2028.99,176.8 2032.47,176.8 2035.95,176.8 2039.43,176.8 2042.91,176.8 2046.39,176.8 2049.87,176.8 2053.35,176.8 2056.83,176.8 2060.31,176.8 2063.79,176.8 2067.27,176.8 2070.75,176.8 2074.23,176.8 2077.71,176.8 2081.19,176.8 2084.67,176.8 2088.15,176.8 2091.63,176.8 2095.11,176.8 2098.59,176.8 2102.07,176.8 2105.55,176.8" fill="none" stroke="#c42e2c" stroke-width="2.2" stroke-linejoin="round" stroke-linecap="round"/>
<polyline points="1274.72,338.88 1276.96,328.43 1279.94,316.49 1282.93,308.28 1285.91,312.01 1288.9,317.99 1292.63,319.48 1295.61,312.01 1298.6,305.3 1301.58,306.79 1306.06,317.99 1309.04,319.48 1312.03,315 1315.76,311.27 1318.75,317.99 1322.48,326.94 1325.46,325.45 1329.19,316.49 1332.18,313.51 1336.66,317.99 1339.64,314.25 1342.63,313.51 1344.87,311.27 1349.34,320.97 1352.33,320.22 1354.57,313.51 1357.55,275.45 1361.28,279.18 1365.76,285.15 1370.99,267.99 1374.72,270.97 1378.45,273.96 1381.43,285.15 1383.67,273.21 1386.66,271.72 1388.9,288.13 1391.88,288.88 1396.36,293.36 1399.34,297.84 1401.58,293.36 1404.57,304.55 1409.04,279.18 1412.03,279.18 1415.01,292.61 1420.24,287.39 1423.22,298.58 1426.21,309.03 1428.45,309.78 1430.69,304.55 1435.91,265.75 1438.15,277.69 1441.13,289.63 1443.37,291.12 1446.36,300.07 1450.09,286.64 1453.82,286.64 1456.81,314.25 1460.54,312.01 1463.52,312.01 1467.25,301.57 1469.49,306.79 1475.46,291.87 1479.19,294.1 1482.93,308.28 1485.91,305.3 1490.39,292.61 1495.61,288.13 1500.09,289.63 1503.07,294.1 1508.3,290.37 1510.54,310.52 1514.27,306.79 1518.75,309.03 1524.72,309.03 1530.69,309.78 1533.67,308.28 1536.66,312.76 1541.88,302.31 1548,302.31 1551.08,307.47 1554.12,308.23 1557.15,309.75 1560.19,314.31 1563.23,314.31 1566.27,313.55 1568.55,308.99 1570.83,313.55 1573.86,317.35 1577.66,316.59 1580.7,314.31 1583.74,308.99 1586.78,309.75 1590.58,308.99 1593.61,315.83 1596.65,321.9 1599.69,324.18 1602.73,316.59 1606.53,308.99 1609.57,312.79 1612.6,315.07 1615.64,314.31 1617.92,312.03 1620.96,313.55 1624,311.27 1627.04,310.51 1630.07,305.95 1633.11,307.47 1636.15,309.75 1639.19,312.03 1642.23,311.27 1645.27,309.75 1648.3,308.99 1651.34,305.19 1656.66,299.87 1659.7,303.67 1662.74,308.23 1666.54,309.75 1668.81,315.83 1671.85,315.07 1674.89,315.07 1677.93,312.79 1681.73,308.23 1684.01,309.75 1687.04,308.99 1690.08,309.75 1693.12,308.99 1696.16,307.47 1699.2,303.67 1703,304.43 1706.03,306.71 1708.31,312.79 1710.59,317.35 1712.87,324.18 1715.15,322.66 1718.19,321.9 1721.23,312.79 1725.02,306.71 1728.82,305.95 1731.86,307.47 1734.9,312.03 1737.18,308.99 1740.22,309.75 1743.25,302.91 1745.53,305.19 1747.81,311.27 1751.61,311.27 1754.65,318.86 1757.69,312.79 1759.97,311.27 1763,316.59 1766.04,315.07 1769.08,313.55 1772.12,309.75 1775.16,308.99 1778.2,312.79 1781.23,319.62 1784.27,319.62 1786.55,317.35 1789.59,317.35 1792.63,312.03 1797.19,311.27 1800.98,308.23 1804.78,309.75 1807.82,311.27 1810.86,317.35 1814.66,326.46 1817.69,323.42 1822.25,308.99 1826.05,313.55 1827.28,315.83 1830.32,318.11 1832.6,314.31 1835.63,312.48 1838.67,313.55 1841.71,315.83 1844.75,318.86 1847.79,317.35 1850.07,320.38 1853.11,323.42 1856.14,321.14 1858.42,322.66 1861.46,326.46 1864.5,327.98 1868.3,329.5 1870.58,324.94 1873.61,318.11 1877.41,318.86 1880.45,318.11 1882.73,320.38 1885.77,318.86 1888.81,315.83 1891.84,312.79 1894.88,313.55 1897.16,319.62 1900.2,311.27 1904,308.99 1907.8,307.47 1910.83,312.79 1914.63,305.19 1917.67,299.87 1920.71,302.15 1923.75,303.67 1926.79,306.71 1929.82,308.99 1932.86,311.27 1935.9,317.35 1938.94,312.03 1941.98,312.79 1945.02,312.03 1948.05,308.99 1951.09,307.47 1954.13,309.75 1957.17,315.07 1960.21,314.31 1964.01,308.99 1967.04,313.55 1970.08,322.66 1972.36,326.46 1975.4,320.38 1978.44,309.75 1982.24,303.67 1985.27,300.63 1988.31,308.23 1991.35,315.83 1994.39,318.11 1997.43,318.11 2001.23,308.23 2004.26,315.07 2007.3,321.9 2010.34,322.66 2013.38,318.86 2016.42,321.9 2020.22,321.9 2023.25,319.62 2027.05,314.31 2030.09,309.75 2033.13,308.23 2036.17,308.23 2039.21,308.99 2041.48,307.47 2044.52,311.27 2047.56,312.79 2051.36,312.79 2055.16,306.71 2058.2,302.91 2061.23,307.47 2064.27,316.59 2068.07,325.7 2071.87,322.66 2075.67,315.83 2078.7,310.51 2081.74,306.71 2084.02,306.71 2086.3,303.67 2088.58,307.47 2092.38,306.71 2096.18,307.47 2098.45,310.51 2100.73,315.07 2104.53,316.59 2107.57,312.79" fill="none" stroke="#30639c" stroke-width="2" stroke-linejoin="round" stroke-linecap="round"/>
<polyline points="1482.63,293.36 1486.11,294.55 1489.59,295.67 1493.07,296.72 1496.55,297.7 1500.03,298.63 1503.51,299.5 1506.99,300.32 1510.47,301.09 1513.95,301.81 1517.43,302.49 1520.91,303.12 1524.39,303.72 1527.87,304.28 1531.35,304.81 1534.83,305.31 1538.31,305.77 1541.79,306.21 1545.27,306.62 1548.75,307.01 1552.23,307.37 1555.71,307.71 1559.19,308.03 1562.67,308.33 1566.15,308.62 1569.63,308.88 1573.11,309.13 1576.59,309.37 1580.07,309.59 1583.55,309.79 1587.03,309.99 1590.51,310.17 1593.99,310.34 1597.47,310.5 1600.95,310.65 1604.43,310.8 1607.91,310.93 1611.39,311.06 1614.87,311.17 1618.35,311.28 1621.83,311.39 1625.31,311.49 1628.79,311.58 1632.27,311.66 1635.75,311.74 1639.23,311.82 1642.71,311.89 1646.19,311.96 1649.67,312.02 1653.15,312.08 1656.63,312.14 1660.11,312.19 1663.59,312.24 1667.07,312.28 1670.55,312.33 1674.03,312.37 1677.51,312.41 1680.99,312.44 1684.47,312.48 1687.95,312.51 1691.43,312.54 1694.91,312.57 1698.39,312.59 1701.87,312.62 1705.35,312.64 1708.83,312.66 1712.31,312.68 1715.79,312.7 1719.27,312.72 1722.75,312.74 1726.23,312.75 1729.71,312.77 1733.19,312.78 1736.67,312.8 1740.15,312.81 1743.63,312.82 1747.11,312.83 1750.59,312.84 1754.07,312.85 1757.55,312.86 1761.03,312.87 1764.51,312.88 1767.99,312.88 1771.47,312.89 1774.95,312.9 1778.43,312.9 1781.91,312.91 1785.39,312.91 1788.87,312.92 1792.35,312.92 1795.83,312.93 1799.31,312.93 1802.79,312.94 1806.27,312.94 1809.75,312.94 1813.23,312.95 1816.71,312.95 1820.19,312.95 1823.67,312.96 1827.15,312.96 1830.63,312.96 1834.11,312.96 1837.59,312.97 1841.07,312.97 1844.55,312.97 1848.03,312.97 1851.51,312.97 1854.99,312.98 1858.47,312.98 1861.95,312.98 1865.43,312.98 1868.91,312.98 1872.39,312.98 1875.87,312.98 1879.35,312.98 1882.83,312.99 1886.31,312.99 1889.79,312.99 1893.27,312.99 1896.75,312.99 1900.23,312.99 1903.71,312.99 1907.19,312.99 1910.67,312.99 1914.15,312.99 1917.63,312.99 1921.11,312.99 1924.59,312.99 1928.07,312.99 1931.55,312.99 1935.03,312.99 1938.51,312.99 1941.99,312.99 1945.47,313 1948.95,313 1952.43,313 1955.91,313 1959.39,313 1962.87,313 1966.35,313 1969.83,313 1973.31,313 1976.79,313 1980.27,313 1983.75,313 1987.23,313 1990.71,313 1994.19,313 1997.67,313 2001.15,313 2004.63,313 2008.11,313 2011.59,313 2015.07,313 2018.55,313 2022.03,313 2025.51,313 2028.99,313 2032.47,313 2035.95,313 2039.43,313 2042.91,313 2046.39,313 2049.87,313 2053.35,313 2056.83,313 2060.31,313 2063.79,313 2067.27,313 2070.75,313 2074.23,313 2077.71,313 2081.19,313 2084.67,313 2088.15,313 2091.63,313 2095.11,313 2098.59,313 2102.07,313 2105.55,313" fill="none" stroke="#c42e2c" stroke-width="2.2" stroke-linejoin="round" stroke-linecap="round"/>
<polyline points="1274.27,477.61 1276.21,463.43 1279.94,448.51 1282.93,444.78 1285.91,441.04 1288.15,441.79 1290.39,439.25 1294.12,446.27 1298.6,456.27 1303.07,455.22 1306.81,445.52 1310.54,441.04 1313.52,441.04 1316.51,444.78 1319.49,449.7 1321.73,448.51 1324.72,450.75 1330.69,444.03 1332.93,441.04 1334.42,428.36 1337.4,429.1 1340.39,432.09 1342.63,424.63 1345.61,433.58 1349.34,438.81 1353.07,447.01 1355.31,443.28 1357.55,447.76 1360.54,450.75 1363.52,417.16 1366.51,429.1 1368.75,435.82 1371.73,435.07 1373.97,439.55 1376.21,433.58 1379.19,409.7 1381.43,405.22 1384.42,407.46 1386.66,406.42 1389.64,412.69 1391.88,435.07 1394.12,436.57 1396.36,435.07 1399.34,462.69 1403.07,460.45 1408.3,458.21 1412.03,455.22 1415.01,452.99 1417.25,408.96 1420.24,408.96 1423.22,420.15 1426.21,436.57 1430.69,442.54 1434.42,423.13 1436.66,423.13 1441.13,440.3 1444.12,436.57 1449.34,438.81 1451.58,432.09 1454.57,432.09 1456.81,429.1 1459.79,429.1 1465.01,448.51 1469.49,463.43 1472.48,458.21 1476.96,455.22 1482.93,447.76 1485.16,439.55 1487.4,420.9 1490.39,426.87 1494.87,435.07 1499.34,439.55 1505.31,441.04 1509.04,438.81 1513.52,424.63 1516.51,427.61 1520.24,431.34 1523.97,431.34 1528.45,447.01 1532.18,457.16 1536.66,455.97 1539.64,447.01 1542.63,446.27 1548,448.51 1549.56,448.55 1552.6,454.62 1555.63,444.75 1560.19,437.91 1563.23,440.19 1566.27,443.23 1568.55,455.38 1571.59,457.66 1573.86,458.42 1576.9,453.86 1579.94,447.03 1582.98,441.71 1586.02,438.67 1589.06,440.19 1592.09,445.51 1595.13,449.31 1597.41,450.07 1599.69,444.75 1601.97,440.19 1604.25,434.87 1607.29,439.43 1610.33,445.51 1612.6,452.35 1615.64,453.11 1618.68,449.31 1621.72,443.99 1624.76,440.19 1627.04,443.99 1630.07,446.27 1633.11,450.07 1635.39,453.11 1637.67,449.31 1640.71,445.51 1645.27,443.23 1648.3,440.19 1651.34,446.27 1654.38,447.03 1658.18,450.07 1661.22,449.31 1663.5,434.12 1666.54,438.67 1669.57,441.71 1671.85,446.27 1674.13,451.59 1677.17,451.59 1679.45,442.47 1682.49,441.71 1687.04,440.19 1690.08,443.23 1693.12,446.27 1696.16,444.75 1698.44,447.03 1701.48,447.79 1703.76,445.51 1706.79,447.03 1710.59,448.55 1713.63,449.31 1716.67,450.07 1719.71,447.79 1723.5,446.27 1726.54,441.71 1729.58,440.95 1731.86,443.99 1734.14,453.86 1737.18,459.94 1739.46,462.98 1742.49,458.42 1747.05,450.83 1750.09,459.94 1753.13,453.11 1756.17,446.27 1759.21,443.23 1762.24,443.99 1765.28,445.51 1768.32,444.75 1771.36,443.99 1774.4,441.71 1777.44,440.19 1780.47,438.67 1783.51,439.43 1786.55,440.95 1788.83,437.91 1791.11,443.99 1794.15,443.23 1796.43,448.55 1798.7,453.11 1801.74,450.83 1804.78,452.35 1807.82,450.83 1810.86,444.75 1813.9,440.95 1816.93,438.67 1819.97,440.95 1822.25,439.43 1824.53,443.23 1825,442.47 1827.28,441.71 1830.32,443.23 1833.36,443.99 1835.63,447.03 1837.91,444.75 1840.19,448.55 1842.47,445.51 1844.75,447.03 1847.79,444.75 1850.83,446.27 1853.86,449.31 1856.9,455.38 1860.7,459.94 1863.74,453.86 1866.78,449.31 1869.82,448.55 1873.61,450.83 1875.89,442.47 1878.93,440.19 1881.97,440.19 1885.01,441.71 1888.05,441.71 1891.08,443.23 1893.36,442.47 1896.4,446.27 1899.44,445.51 1902.48,441.71 1905.52,440.95 1910.07,440.19 1912.35,443.23 1915.39,450.83 1917.67,453.11 1920.71,460.7 1924.51,461.46 1928.3,462.98 1931.34,464.5 1934.38,460.7 1937.42,455.38 1940.46,450.83 1943.5,449.31 1946.54,450.07 1949.57,456.14 1952.61,454.62 1955.65,453.86 1958.69,453.11 1961.73,449.31 1964.01,447.03 1967.04,444.75 1970.08,445.51 1973.12,447.79 1976.16,449.31 1979.2,446.27 1982.24,442.47 1985.27,440.95 1988.31,443.99 1991.35,447.03 1994.39,447.79 1996.67,444.75 1998.95,440.19 2001.23,448.55 2004.26,454.62 2008.82,461.46 2012.62,456.9 2015.66,455.38 2017.94,456.14 2020.98,450.83 2024.01,447.03 2027.05,447.79 2030.09,449.31 2033.13,447.03 2036.17,443.99 2039.21,440.95 2041.48,442.47 2044.52,451.59 2047.56,452.35 2050.6,451.59 2053.64,451.59 2056.68,446.27 2059.71,444.75 2062.75,443.99 2065.79,447.79 2068.83,453.11 2071.87,452.35 2074.91,452.35 2077.95,451.59 2080.98,446.27 2084.02,443.99 2087.06,447.03 2090.86,450.07 2094.66,453.11 2097.69,451.59 2100.73,447.79 2103.77,447.79 2106.81,447.79" fill="none" stroke="#30639c" stroke-width="2" stroke-linejoin="round" stroke-linecap="round"/>
<polyline points="1482.63,432.84 1486.11,433.64 1489.59,434.4 1493.07,435.12 1496.55,435.8 1500.03,436.44 1503.51,437.05 1506.99,437.62 1510.47,438.17 1513.95,438.68 1517.43,439.17 1520.91,439.63 1524.39,440.07 1527.87,440.48 1531.35,440.87 1534.83,441.24 1538.31,441.59 1541.79,441.92 1545.27,442.23 1548.75,442.53 1552.23,442.81 1555.71,443.07 1559.19,443.32 1562.67,443.56 1566.15,443.78 1569.63,443.99 1573.11,444.19 1576.59,444.38 1580.07,444.56 1583.55,444.73 1587.03,444.89 1590.51,445.04 1593.99,445.19 1597.47,445.32 1600.95,445.45 1604.43,445.57 1607.91,445.69 1611.39,445.8 1614.87,445.9 1618.35,446 1621.83,446.09 1625.31,446.18 1628.79,446.26 1632.27,446.34 1635.75,446.41 1639.23,446.48 1642.71,446.55 1646.19,446.61 1649.67,446.67 1653.15,446.72 1656.63,446.78 1660.11,446.83 1663.59,446.87 1667.07,446.92 1670.55,446.96 1674.03,447 1677.51,447.04 1680.99,447.07 1684.47,447.11 1687.95,447.14 1691.43,447.17 1694.91,447.2 1698.39,447.23 1701.87,447.25 1705.35,447.28 1708.83,447.3 1712.31,447.32 1715.79,447.34 1719.27,447.36 1722.75,447.38 1726.23,447.4 1729.71,447.41 1733.19,447.43 1736.67,447.44 1740.15,447.46 1743.63,447.47 1747.11,447.48 1750.59,447.49 1754.07,447.5 1757.55,447.52 1761.03,447.53 1764.51,447.53 1767.99,447.54 1771.47,447.55 1774.95,447.56 1778.43,447.57 1781.91,447.57 1785.39,447.58 1788.87,447.59 1792.35,447.59 1795.83,447.6 1799.31,447.61 1802.79,447.61 1806.27,447.62 1809.75,447.62 1813.23,447.62 1816.71,447.63 1820.19,447.63 1823.67,447.64 1827.15,447.64 1830.63,447.64 1834.11,447.65 1837.59,447.65 1841.07,447.65 1844.55,447.65 1848.03,447.66 1851.51,447.66 1854.99,447.66 1858.47,447.66 1861.95,447.67 1865.43,447.67 1868.91,447.67 1872.39,447.67 1875.87,447.67 1879.35,447.67 1882.83,447.68 1886.31,447.68 1889.79,447.68 1893.27,447.68 1896.75,447.68 1900.23,447.68 1903.71,447.68 1907.19,447.68 1910.67,447.68 1914.15,447.68 1917.63,447.69 1921.11,447.69 1924.59,447.69 1928.07,447.69 1931.55,447.69 1935.03,447.69 1938.51,447.69 1941.99,447.69 1945.47,447.69 1948.95,447.69 1952.43,447.69 1955.91,447.69 1959.39,447.69 1962.87,447.69 1966.35,447.69 1969.83,447.69 1973.31,447.69 1976.79,447.69 1980.27,447.69 1983.75,447.7 1987.23,447.7 1990.71,447.7 1994.19,447.7 1997.67,447.7 2001.15,447.7 2004.63,447.7 2008.11,447.7 2011.59,447.7 2015.07,447.7 2018.55,447.7 2022.03,447.7 2025.51,447.7 2028.99,447.7 2032.47,447.7 2035.95,447.7 2039.43,447.7 2042.91,447.7 2046.39,447.7 2049.87,447.7 2053.35,447.7 2056.83,447.7 2060.31,447.7 2063.79,447.7 2067.27,447.7 2070.75,447.7 2074.23,447.7 2077.71,447.7 2081.19,447.7 2084.67,447.7 2088.15,447.7 2091.63,447.7 2095.11,447.7 2098.59,447.7 2102.07,447.7 2105.55,447.7" fill="none" stroke="#c42e2c" stroke-width="2.2" stroke-linejoin="round" stroke-linecap="round"/>
<line x1="303.8" y1="83.35" x2="303.8" y2="208.35" stroke="#262626" stroke-width="1.15"/>
<line x1="303.8" y1="208.35" x2="1138.82" y2="208.35" stroke="#262626" stroke-width="1.15"/>
<line x1="303.8" y1="83.35" x2="312.4" y2="83.35" stroke="#262626" stroke-width="1.15"/>
<line x1="303.8" y1="200.54" x2="312.4" y2="200.54" stroke="#262626" stroke-width="1.15"/>
<text x="263.13" y="98.3" font-size="31" fill="#262626">75</text>
<text x="280.34" y="204.3" font-size="31" fill="#262626">0</text>
<line x1="303.8" y1="218.2" x2="303.8" y2="343.2" stroke="#262626" stroke-width="1.15"/>
<line x1="303.8" y1="343.2" x2="1138.82" y2="343.2" stroke="#262626" stroke-width="1.15"/>
<line x1="303.8" y1="218.2" x2="312.4" y2="218.2" stroke="#262626" stroke-width="1.15"/>
<line x1="303.8" y1="335.39" x2="312.4" y2="335.39" stroke="#262626" stroke-width="1.15"/>
<text x="263.13" y="233.15" font-size="31" fill="#262626">75</text>
<text x="280.34" y="339.15" font-size="31" fill="#262626">0</text>
<line x1="303.8" y1="353.1" x2="303.8" y2="478.1" stroke="#262626" stroke-width="1.15"/>
<line x1="303.8" y1="478.1" x2="1138.82" y2="478.1" stroke="#262626" stroke-width="1.15"/>
<line x1="303.8" y1="353.1" x2="312.4" y2="353.1" stroke="#262626" stroke-width="1.15"/>
<line x1="303.8" y1="470.29" x2="312.4" y2="470.29" stroke="#262626" stroke-width="1.15"/>
<text x="263.13" y="368.05" font-size="31" fill="#262626">75</text>
<text x="280.34" y="474.05" font-size="31" fill="#262626">0</text>
<text x="295.2" y="515" font-size="31" fill="#262626">0</text>
<line x1="373.38" y1="478.1" x2="373.38" y2="469.8" stroke="#262626" stroke-width="1.15"/>
<text x="364.78" y="515" font-size="31" fill="#262626">5</text>
<line x1="442.97" y1="478.1" x2="442.97" y2="469.8" stroke="#262626" stroke-width="1.15"/>
<text x="425.22" y="515" font-size="31" fill="#262626">10</text>
<line x1="512.56" y1="478.1" x2="512.56" y2="469.8" stroke="#262626" stroke-width="1.15"/>
<text x="494.81" y="515" font-size="31" fill="#262626">15</text>
<line x1="582.14" y1="478.1" x2="582.14" y2="469.8" stroke="#262626" stroke-width="1.15"/>
<text x="564.78" y="515" font-size="31" fill="#262626">20</text>
<line x1="651.73" y1="478.1" x2="651.73" y2="469.8" stroke="#262626" stroke-width="1.15"/>
<text x="634.37" y="515" font-size="31" fill="#262626">25</text>
<line x1="721.31" y1="478.1" x2="721.31" y2="469.8" stroke="#262626" stroke-width="1.15"/>
<text x="704.1" y="515" font-size="31" fill="#262626">30</text>
<line x1="790.89" y1="478.1" x2="790.89" y2="469.8" stroke="#262626" stroke-width="1.15"/>
<text x="773.69" y="515" font-size="31" fill="#262626">35</text>
<line x1="860.48" y1="478.1" x2="860.48" y2="469.8" stroke="#262626" stroke-width="1.15"/>
<text x="843.51" y="515" font-size="31" fill="#262626">40</text>
<line x1="930.07" y1="478.1" x2="930.07" y2="469.8" stroke="#262626" stroke-width="1.15"/>
<text x="913.09" y="515" font-size="31" fill="#262626">45</text>
<line x1="999.65" y1="478.1" x2="999.65" y2="469.8" stroke="#262626" stroke-width="1.15"/>
<text x="982.45" y="515" font-size="31" fill="#262626">50</text>
<line x1="1069.23" y1="478.1" x2="1069.23" y2="469.8" stroke="#262626" stroke-width="1.15"/>
<text x="1052.03" y="515" font-size="31" fill="#262626">55</text>
<line x1="1138.82" y1="478.1" x2="1138.82" y2="469.8" stroke="#262626" stroke-width="1.15"/>
<text x="1121.46" y="515" font-size="31" fill="#262626">60</text>
<line x1="1272.5" y1="83.35" x2="1272.5" y2="208.35" stroke="#262626" stroke-width="1.15"/>
<line x1="1272.5" y1="208.35" x2="2107.7" y2="208.35" stroke="#262626" stroke-width="1.15"/>
<line x1="1272.5" y1="83.35" x2="1281.1" y2="83.35" stroke="#262626" stroke-width="1.15"/>
<line x1="1272.5" y1="200.54" x2="1281.1" y2="200.54" stroke="#262626" stroke-width="1.15"/>
<text x="1231.93" y="98.3" font-size="31" fill="#262626">75</text>
<text x="1249.13" y="204.3" font-size="31" fill="#262626">0</text>
<line x1="1272.5" y1="218.2" x2="1272.5" y2="343.2" stroke="#262626" stroke-width="1.15"/>
<line x1="1272.5" y1="343.2" x2="2107.7" y2="343.2" stroke="#262626" stroke-width="1.15"/>
<line x1="1272.5" y1="218.2" x2="1281.1" y2="218.2" stroke="#262626" stroke-width="1.15"/>
<line x1="1272.5" y1="335.39" x2="1281.1" y2="335.39" stroke="#262626" stroke-width="1.15"/>
<text x="1231.93" y="233.15" font-size="31" fill="#262626">75</text>
<text x="1249.13" y="339.15" font-size="31" fill="#262626">0</text>
<line x1="1272.5" y1="353.1" x2="1272.5" y2="478.1" stroke="#262626" stroke-width="1.15"/>
<line x1="1272.5" y1="478.1" x2="2107.7" y2="478.1" stroke="#262626" stroke-width="1.15"/>
<line x1="1272.5" y1="353.1" x2="1281.1" y2="353.1" stroke="#262626" stroke-width="1.15"/>
<line x1="1272.5" y1="470.29" x2="1281.1" y2="470.29" stroke="#262626" stroke-width="1.15"/>
<text x="1231.93" y="368.05" font-size="31" fill="#262626">75</text>
<text x="1249.13" y="474.05" font-size="31" fill="#262626">0</text>
<text x="1263.9" y="515" font-size="31" fill="#262626">0</text>
<line x1="1342.1" y1="478.1" x2="1342.1" y2="469.8" stroke="#262626" stroke-width="1.15"/>
<text x="1333.5" y="515" font-size="31" fill="#262626">5</text>
<line x1="1411.7" y1="478.1" x2="1411.7" y2="469.8" stroke="#262626" stroke-width="1.15"/>
<text x="1393.95" y="515" font-size="31" fill="#262626">10</text>
<line x1="1481.3" y1="478.1" x2="1481.3" y2="469.8" stroke="#262626" stroke-width="1.15"/>
<text x="1463.55" y="515" font-size="31" fill="#262626">15</text>
<line x1="1550.9" y1="478.1" x2="1550.9" y2="469.8" stroke="#262626" stroke-width="1.15"/>
<text x="1533.54" y="515" font-size="31" fill="#262626">20</text>
<line x1="1620.5" y1="478.1" x2="1620.5" y2="469.8" stroke="#262626" stroke-width="1.15"/>
<text x="1603.14" y="515" font-size="31" fill="#262626">25</text>
<line x1="1690.1" y1="478.1" x2="1690.1" y2="469.8" stroke="#262626" stroke-width="1.15"/>
<text x="1672.89" y="515" font-size="31" fill="#262626">30</text>
<line x1="1759.7" y1="478.1" x2="1759.7" y2="469.8" stroke="#262626" stroke-width="1.15"/>
<text x="1742.5" y="515" font-size="31" fill="#262626">35</text>
<line x1="1829.3" y1="478.1" x2="1829.3" y2="469.8" stroke="#262626" stroke-width="1.15"/>
<text x="1812.33" y="515" font-size="31" fill="#262626">40</text>
<line x1="1898.9" y1="478.1" x2="1898.9" y2="469.8" stroke="#262626" stroke-width="1.15"/>
<text x="1881.93" y="515" font-size="31" fill="#262626">45</text>
<line x1="1968.5" y1="478.1" x2="1968.5" y2="469.8" stroke="#262626" stroke-width="1.15"/>
<text x="1951.3" y="515" font-size="31" fill="#262626">50</text>
<line x1="2038.1" y1="478.1" x2="2038.1" y2="469.8" stroke="#262626" stroke-width="1.15"/>
<text x="2020.89" y="515" font-size="31" fill="#262626">55</text>
<line x1="2107.7" y1="478.1" x2="2107.7" y2="469.8" stroke="#262626" stroke-width="1.15"/>
<text x="2090.34" y="515" font-size="31" fill="#262626">60</text>
<text x="674.74" y="548.5" font-size="31" fill="#262626" textLength="105.32" lengthAdjust="spacingAndGlyphs">time (s)</text>
<text x="1644.04" y="548.5" font-size="31" fill="#262626" textLength="105.42" lengthAdjust="spacingAndGlyphs">time (s)</text>
<text x="617.52" y="40" font-size="35" font-weight="bold" fill="#262626" textLength="216.39" lengthAdjust="spacingAndGlyphs">no distractor</text>
<text x="1614.6" y="40" font-size="35" font-weight="bold" fill="#262626" textLength="162.83" lengthAdjust="spacingAndGlyphs">distractor</text>
<text transform="translate(233 333.84) rotate(-90)" x="0" y="0" font-size="31" fill="#262626" textLength="123.12" lengthAdjust="spacingAndGlyphs">dF/F (%)</text>
<text transform="translate(99 384.38) rotate(-90)" x="0" y="0" font-size="38.5" fill="#262626" textLength="220.99" lengthAdjust="spacingAndGlyphs">training trials</text>
<text x="141.3" y="152.3" font-size="39.3" fill="#262626" textLength="19.46" lengthAdjust="spacingAndGlyphs">1</text>
<text x="139.72" y="287.6" font-size="39.3" fill="#262626" textLength="23.01" lengthAdjust="spacingAndGlyphs">4</text>
<text x="140.53" y="421.6" font-size="39.3" fill="#262626">7</text>
<line x1="124" y1="67.5" x2="124" y2="463" stroke="#383838" stroke-width="4"/>
<polygon points="105.5,459.5 124,465.8 142.5,459.1 124,492" fill="#383838"/>
<rect x="968.6" y="79.1" width="29" height="28.8" fill="#d4d3f2"/>
<text x="1001.55" y="106.5" font-size="33" fill="#262626" textLength="43.07" lengthAdjust="spacingAndGlyphs">CS</text>
<rect x="1059.8" y="79.1" width="28.3" height="28.8" fill="#fcd5c0"/>
<text x="1091.93" y="106.5" font-size="33" fill="#262626" textLength="43.9" lengthAdjust="spacingAndGlyphs">US</text>
<rect x="1880.6" y="79.1" width="28.8" height="28.8" fill="#cdcdcd"/>
<text x="1916.38" y="106.5" font-size="33" fill="#262626" textLength="129.79" lengthAdjust="spacingAndGlyphs">distractor</text>
<text x="-2.21" y="629.3" font-size="54" fill="#000">b</text>
<polyline points="196.58,706.21 202.45,835.62 208.33,842.55 214.2,850.64 220.08,852.95 225.96,858.73 231.83,860.12 237.71,861.5 243.58,863.58 249.46,865.66 255.34,866.82 261.21,867.98 267.09,870.29 272.96,871.09 278.84,871.9 284.72,872.71 290.59,873.52 296.47,873.75 302.34,873.98 308.22,874.21 314.1,874.45 319.97,874.68 325.85,874.91 331.72,875.14 337.6,875.37 343.48,875.6 349.35,875.83 355.23,875.95 361.1,876.07 366.98,876.19 372.86,876.31 378.73,876.44 384.61,876.56 390.48,876.68 396.36,876.8 402.24,876.92 408.11,877.04 413.99,877.16 419.86,877.28 425.74,877.4 431.62,877.52 437.49,877.64 443.37,877.76 449.24,877.88 455.12,878 461,878.12 466.87,878.24 472.75,878.36 478.62,878.49 484.5,878.61" fill="none" stroke="#3c48a6" stroke-width="1.5" stroke-linejoin="round" stroke-linecap="round"/>
<polyline points="196.58,706.21 202.45,841.4 208.33,843.71 214.2,849.49 220.08,855.26 225.96,859.89 231.83,861.62 237.71,863.35 243.58,865.66 249.46,867.98 255.34,869.13 261.21,870.29 267.09,870.75 272.96,871.44 278.84,872.13 284.72,872.83 290.59,873.52 296.47,873.75 302.34,873.98 308.22,874.21 314.1,874.45 319.97,874.68 325.85,874.91 331.72,875.14 337.6,875.37 343.48,875.6 349.35,875.83 355.23,875.95 361.1,876.07 366.98,876.19 372.86,876.31 378.73,876.44 384.61,876.56 390.48,876.68 396.36,876.8 402.24,876.92 408.11,877.04 413.99,877.16 419.86,877.28 425.74,877.4 431.62,877.52 437.49,877.64 443.37,877.76 449.24,877.88 455.12,878 461,878.12 466.87,878.24 472.75,878.36 478.62,878.49 484.5,878.61" fill="none" stroke="#3c48a6" stroke-width="1.5" stroke-linejoin="round" stroke-linecap="round"/>
<polyline points="196.58,706.21 202.45,839.09 208.33,844.87 214.2,851.8 220.08,854.11 225.96,857.58 231.83,859.89 237.71,862.2 243.58,863.35 249.46,864.51 255.34,866.01 261.21,867.51 267.09,869.13 272.96,870.75 278.84,871.67 284.72,872.6 290.59,873.52 296.47,873.78 302.34,874.03 308.22,874.28 314.1,874.54 319.97,874.79 325.85,875.05 331.72,875.3 337.6,875.56 343.48,875.81 349.35,876.06 355.23,876.18 361.1,876.3 366.98,876.43 372.86,876.55 378.73,876.67 384.61,876.79 390.48,876.91 396.36,877.03 402.24,877.15 408.11,877.27 413.99,877.39 419.86,877.51 425.74,877.63 431.62,877.75 437.49,877.87 443.37,877.99 449.24,878.11 455.12,878.23 461,878.35 466.87,878.47 472.75,878.6 478.62,878.72 484.5,878.84" fill="none" stroke="#3c48a6" stroke-width="1.5" stroke-linejoin="round" stroke-linecap="round"/>
<polyline points="196.58,706.21 202.45,837.93 208.33,846.02 214.2,852.95 220.08,856.42 225.96,861.04 231.83,861.97 237.71,862.89 243.58,864.86 249.46,866.82 255.34,867.98 261.21,869.13 267.09,870.17 272.96,871.21 278.84,872.06 284.72,872.91 290.59,873.75 296.47,873.98 302.34,874.21 308.22,874.45 314.1,874.68 319.97,874.91 325.85,875.14 331.72,875.37 337.6,875.6 343.48,875.83 349.35,876.06 355.23,876.17 361.1,876.28 366.98,876.4 372.86,876.51 378.73,876.62 384.61,876.73 390.48,876.84 396.36,876.95 402.24,877.06 408.11,877.17 413.99,877.28 419.86,877.39 425.74,877.5 431.62,877.61 437.49,877.72 443.37,877.83 449.24,877.94 455.12,878.05 461,878.16 466.87,878.27 472.75,878.38 478.62,878.5 484.5,878.61" fill="none" stroke="#3c48a6" stroke-width="1.5" stroke-linejoin="round" stroke-linecap="round"/>
<polyline points="627.35,703.1 633.2,812.82 639.04,828.99 644.89,845.16 650.74,849.78 656.59,855.56 662.44,857.29 668.28,859.02 674.13,860.75 679.98,862.49 685.83,863.64 691.68,864.8 697.52,865.95 703.37,867.11 709.22,868.26 715.07,868.95 720.92,869.65 726.76,870.34 732.61,871.03 738.46,871.73 744.31,872.23 750.16,872.73 756,873.23 761.85,873.73 767.7,874.23 773.55,874.73 779.4,874.98 785.24,875.24 791.09,875.5 796.94,875.75 802.79,876.01 808.64,876.27 814.48,876.52 820.33,876.78 826.18,877.04 832.03,877.22 837.88,877.41 843.72,877.59 849.57,877.78 855.42,877.96 861.27,878.15 867.12,878.33 872.96,878.52 878.81,878.7 884.66,878.89 890.51,879.07 896.36,879.26 902.2,879.44 908.05,879.63 913.9,879.81" fill="none" stroke="#d3281f" stroke-width="1.5" stroke-linejoin="round" stroke-linecap="round"/>
<polyline points="627.35,704.25 633.2,820.91 639.04,827.84 644.89,841.7 650.74,848.62 656.59,854.4 662.44,856.13 668.28,857.87 674.13,859.6 679.98,861.33 685.83,862.72 691.68,864.1 697.52,865.33 703.37,866.57 709.22,867.8 715.07,868.54 720.92,869.28 726.76,870.02 732.61,870.75 738.46,871.49 744.31,871.99 750.16,872.5 756,873 761.85,873.5 767.7,874 773.55,874.5 779.4,874.78 785.24,875.06 791.09,875.34 796.94,875.63 802.79,875.91 808.64,876.19 814.48,876.47 820.33,876.76 826.18,877.04 832.03,877.22 837.88,877.41 843.72,877.59 849.57,877.78 855.42,877.96 861.27,878.15 867.12,878.33 872.96,878.52 878.81,878.7 884.66,878.89 890.51,879.07 896.36,879.26 902.2,879.44 908.05,879.63 913.9,879.81" fill="none" stroke="#d3281f" stroke-width="1.5" stroke-linejoin="round" stroke-linecap="round"/>
<polyline points="627.35,704.25 633.2,817.44 639.04,831.3 644.89,838.23 650.74,850.94 656.59,856.71 662.44,858.44 668.28,860.18 674.13,861.68 679.98,863.18 685.83,864.33 691.68,865.49 697.52,866.57 703.37,867.64 709.22,868.72 715.07,869.37 720.92,870.02 726.76,870.66 732.61,871.31 738.46,871.96 744.31,872.42 750.16,872.88 756,873.34 761.85,873.8 767.7,874.27 773.55,874.73 779.4,875.01 785.24,875.29 791.09,875.58 796.94,875.86 802.79,876.14 808.64,876.42 814.48,876.7 820.33,876.99 826.18,877.27 832.03,877.45 837.88,877.64 843.72,877.82 849.57,878.01 855.42,878.19 861.27,878.38 867.12,878.56 872.96,878.75 878.81,878.93 884.66,879.12 890.51,879.3 896.36,879.49 902.2,879.67 908.05,879.86 913.9,880.04" fill="none" stroke="#d3281f" stroke-width="1.5" stroke-linejoin="round" stroke-linecap="round"/>
<polyline points="627.35,704.25 633.2,822.06 639.04,826.68 644.89,844 650.74,847.47 656.59,853.25 662.44,856.13 668.28,859.02 674.13,860.41 679.98,861.79 685.83,863.29 691.68,864.8 697.52,865.95 703.37,867.11 709.22,868.26 715.07,868.95 720.92,869.65 726.76,870.34 732.61,871.03 738.46,871.73 744.31,872.19 750.16,872.65 756,873.11 761.85,873.57 767.7,874.04 773.55,874.5 779.4,874.78 785.24,875.06 791.09,875.34 796.94,875.63 802.79,875.91 808.64,876.19 814.48,876.47 820.33,876.76 826.18,877.04 832.03,877.22 837.88,877.41 843.72,877.59 849.57,877.78 855.42,877.96 861.27,878.15 867.12,878.33 872.96,878.52 878.81,878.7 884.66,878.89 890.51,879.07 896.36,879.26 902.2,879.44 908.05,879.63 913.9,879.81" fill="none" stroke="#d3281f" stroke-width="1.5" stroke-linejoin="round" stroke-linecap="round"/>
<line x1="190.7" y1="694.65" x2="190.7" y2="925.75" stroke="#262626" stroke-width="1.15"/>
<line x1="190.7" y1="925.75" x2="484.5" y2="925.75" stroke="#262626" stroke-width="1.15"/>
<line x1="190.7" y1="694.65" x2="194.9" y2="694.65" stroke="#262626" stroke-width="1.15"/>
<text x="165.53" y="705.45" font-size="31" fill="#262626">5</text>
<line x1="190.7" y1="752.43" x2="194.9" y2="752.43" stroke="#262626" stroke-width="1.15"/>
<text x="139.65" y="763.23" font-size="31" fill="#262626">2.5</text>
<line x1="190.7" y1="810.2" x2="194.9" y2="810.2" stroke="#262626" stroke-width="1.15"/>
<text x="165.53" y="821" font-size="31" fill="#262626">0</text>
<line x1="190.7" y1="867.98" x2="194.9" y2="867.98" stroke="#262626" stroke-width="1.15"/>
<text x="129.42" y="878.77" font-size="31" fill="#262626">-2.5</text>
<line x1="190.7" y1="925.75" x2="194.9" y2="925.75" stroke="#262626" stroke-width="1.15"/>
<text x="155.15" y="936.55" font-size="31" fill="#262626">-5</text>
<text x="182.1" y="959.55" font-size="31" fill="#262626">0</text>
<line x1="249.46" y1="925.75" x2="249.46" y2="921.55" stroke="#262626" stroke-width="1.15"/>
<text x="231.71" y="959.55" font-size="31" fill="#262626">10</text>
<line x1="308.22" y1="925.75" x2="308.22" y2="921.55" stroke="#262626" stroke-width="1.15"/>
<text x="290.86" y="959.55" font-size="31" fill="#262626">20</text>
<line x1="366.98" y1="925.75" x2="366.98" y2="921.55" stroke="#262626" stroke-width="1.15"/>
<text x="349.78" y="959.55" font-size="31" fill="#262626">30</text>
<line x1="425.74" y1="925.75" x2="425.74" y2="921.55" stroke="#262626" stroke-width="1.15"/>
<text x="408.77" y="959.55" font-size="31" fill="#262626">40</text>
<line x1="484.5" y1="925.75" x2="484.5" y2="921.55" stroke="#262626" stroke-width="1.15"/>
<text x="467.3" y="959.55" font-size="31" fill="#262626">50</text>
<line x1="621.5" y1="692.7" x2="621.5" y2="923.7" stroke="#262626" stroke-width="1.15"/>
<line x1="621.5" y1="923.7" x2="913.9" y2="923.7" stroke="#262626" stroke-width="1.15"/>
<line x1="621.5" y1="692.7" x2="625.7" y2="692.7" stroke="#262626" stroke-width="1.15"/>
<text x="596.33" y="703.5" font-size="31" fill="#262626">5</text>
<line x1="621.5" y1="750.45" x2="625.7" y2="750.45" stroke="#262626" stroke-width="1.15"/>
<text x="570.45" y="761.25" font-size="31" fill="#262626">2.5</text>
<line x1="621.5" y1="808.2" x2="625.7" y2="808.2" stroke="#262626" stroke-width="1.15"/>
<text x="596.33" y="819" font-size="31" fill="#262626">0</text>
<line x1="621.5" y1="865.95" x2="625.7" y2="865.95" stroke="#262626" stroke-width="1.15"/>
<text x="560.22" y="876.75" font-size="31" fill="#262626">-2.5</text>
<line x1="621.5" y1="923.7" x2="625.7" y2="923.7" stroke="#262626" stroke-width="1.15"/>
<text x="585.95" y="934.5" font-size="31" fill="#262626">-5</text>
<text x="612.9" y="957.5" font-size="31" fill="#262626">0</text>
<line x1="679.98" y1="923.7" x2="679.98" y2="919.5" stroke="#262626" stroke-width="1.15"/>
<text x="662.23" y="957.5" font-size="31" fill="#262626">10</text>
<line x1="738.46" y1="923.7" x2="738.46" y2="919.5" stroke="#262626" stroke-width="1.15"/>
<text x="721.1" y="957.5" font-size="31" fill="#262626">20</text>
<line x1="796.94" y1="923.7" x2="796.94" y2="919.5" stroke="#262626" stroke-width="1.15"/>
<text x="779.74" y="957.5" font-size="31" fill="#262626">30</text>
<line x1="855.42" y1="923.7" x2="855.42" y2="919.5" stroke="#262626" stroke-width="1.15"/>
<text x="838.45" y="957.5" font-size="31" fill="#262626">40</text>
<line x1="913.9" y1="923.7" x2="913.9" y2="919.5" stroke="#262626" stroke-width="1.15"/>
<text x="896.69" y="957.5" font-size="31" fill="#262626">50</text>
<text transform="translate(112 898.41) rotate(-90)" x="0" y="0" font-size="31" fill="#262626" textLength="182.99" lengthAdjust="spacingAndGlyphs">log-variability</text>
<text x="262.5" y="995.7" font-size="31" fill="#262626" textLength="151.94" lengthAdjust="spacingAndGlyphs">component</text>
<text x="694.4" y="995.8" font-size="31" fill="#262626" textLength="151.04" lengthAdjust="spacingAndGlyphs">component</text>
<line x1="696.3" y1="621" x2="736.7" y2="621" stroke="#3c48a6" stroke-width="4.2"/>
<line x1="696.3" y1="647.8" x2="736.7" y2="647.8" stroke="#d3281f" stroke-width="4.2"/>
<text x="747.99" y="625.8" font-size="31" fill="#262626" textLength="172.56" lengthAdjust="spacingAndGlyphs">no distractor</text>
<text x="748.76" y="656" font-size="31" fill="#262626" textLength="128.78" lengthAdjust="spacingAndGlyphs">distractor</text>
<text x="1065.47" y="629.3" font-size="54" fill="#000">c</text>
<line x1="1220" y1="655.7" x2="1220" y2="919.02" stroke="#262626" stroke-width="1.15"/>
<line x1="1242.8" y1="919.02" x2="1511.18" y2="919.02" stroke="#262626" stroke-width="1.15"/>
<line x1="1220" y1="655.7" x2="1223.8" y2="655.7" stroke="#262626" stroke-width="1.15"/>
<text x="1161.12" y="666.5" font-size="31" fill="#262626">100</text>
<line x1="1220" y1="721.53" x2="1223.8" y2="721.53" stroke="#262626" stroke-width="1.15"/>
<text x="1178.33" y="732.33" font-size="31" fill="#262626">90</text>
<line x1="1220" y1="787.36" x2="1223.8" y2="787.36" stroke="#262626" stroke-width="1.15"/>
<text x="1178.33" y="798.16" font-size="31" fill="#262626">80</text>
<line x1="1220" y1="853.19" x2="1223.8" y2="853.19" stroke="#262626" stroke-width="1.15"/>
<text x="1178.33" y="863.99" font-size="31" fill="#262626">70</text>
<line x1="1220" y1="919.02" x2="1223.8" y2="919.02" stroke="#262626" stroke-width="1.15"/>
<text x="1178.33" y="929.82" font-size="31" fill="#262626">60</text>
<line x1="1242.8" y1="919.02" x2="1242.8" y2="915.22" stroke="#262626" stroke-width="1.15"/>
<text x="1233.81" y="952.6" font-size="31" fill="#262626">1</text>
<line x1="1287.53" y1="919.02" x2="1287.53" y2="915.22" stroke="#262626" stroke-width="1.15"/>
<text x="1278.93" y="952.6" font-size="31" fill="#262626">2</text>
<line x1="1332.26" y1="919.02" x2="1332.26" y2="915.22" stroke="#262626" stroke-width="1.15"/>
<text x="1323.73" y="952.6" font-size="31" fill="#262626">3</text>
<line x1="1376.99" y1="919.02" x2="1376.99" y2="915.22" stroke="#262626" stroke-width="1.15"/>
<text x="1368.46" y="952.6" font-size="31" fill="#262626">4</text>
<line x1="1421.72" y1="919.02" x2="1421.72" y2="915.22" stroke="#262626" stroke-width="1.15"/>
<text x="1413.12" y="952.6" font-size="31" fill="#262626">5</text>
<line x1="1466.45" y1="919.02" x2="1466.45" y2="915.22" stroke="#262626" stroke-width="1.15"/>
<text x="1457.77" y="952.6" font-size="31" fill="#262626">6</text>
<line x1="1511.18" y1="919.02" x2="1511.18" y2="915.22" stroke="#262626" stroke-width="1.15"/>
<text x="1502.58" y="952.6" font-size="31" fill="#262626">7</text>
<text x="1353.54" y="986.6" font-size="31" fill="#262626" textLength="41.52" lengthAdjust="spacingAndGlyphs">trial</text>
<text transform="translate(1148 877.95) rotate(-90)" x="0" y="0" font-size="31" fill="#262626" textLength="183.85" lengthAdjust="spacingAndGlyphs">variability (%)</text>
<circle cx="1242.8" cy="693.59" r="2.5" fill="#c42724"/>
<circle cx="1242.8" cy="699.19" r="2.5" fill="#c42724"/>
<circle cx="1242.8" cy="700.47" r="2.5" fill="#c42724"/>
<circle cx="1242.8" cy="716.78" r="2.5" fill="#383f9e"/>
<circle cx="1242.8" cy="722.86" r="2.5" fill="#c42724"/>
<circle cx="1242.8" cy="727.98" r="2.5" fill="#383f9e"/>
<circle cx="1242.8" cy="729.9" r="2.5" fill="#383f9e"/>
<circle cx="1242.8" cy="735.97" r="2.5" fill="#c42724"/>
<circle cx="1242.8" cy="744.77" r="2.5" fill="#c42724"/>
<circle cx="1242.8" cy="746.85" r="2.5" fill="#c42724"/>
<circle cx="1242.8" cy="750.37" r="2.5" fill="#383f9e"/>
<circle cx="1242.8" cy="756.44" r="2.5" fill="#c42724"/>
<circle cx="1242.8" cy="761.56" r="2.5" fill="#c42724"/>
<circle cx="1242.8" cy="763.48" r="2.5" fill="#383f9e"/>
<circle cx="1287.53" cy="695.99" r="2.5" fill="#c42724"/>
<circle cx="1287.53" cy="697.91" r="2.5" fill="#c42724"/>
<circle cx="1287.53" cy="700.79" r="2.5" fill="#383f9e"/>
<circle cx="1287.53" cy="718.06" r="2.5" fill="#383f9e"/>
<circle cx="1287.53" cy="723.98" r="2.5" fill="#c42724"/>
<circle cx="1287.53" cy="729.9" r="2.5" fill="#383f9e"/>
<circle cx="1287.53" cy="743.17" r="2.5" fill="#c42724"/>
<circle cx="1287.53" cy="744.77" r="2.5" fill="#c42724"/>
<circle cx="1287.53" cy="750.05" r="2.5" fill="#383f9e"/>
<circle cx="1287.53" cy="753.88" r="2.5" fill="#c42724"/>
<circle cx="1287.53" cy="755.48" r="2.5" fill="#c42724"/>
<circle cx="1287.53" cy="761.56" r="2.5" fill="#383f9e"/>
<circle cx="1287.53" cy="764.44" r="2.5" fill="#c42724"/>
<circle cx="1332.26" cy="698.39" r="2.5" fill="#c42724"/>
<circle cx="1332.26" cy="700.47" r="2.5" fill="#c42724"/>
<circle cx="1332.26" cy="702.71" r="2.5" fill="#c42724"/>
<circle cx="1332.26" cy="717.58" r="2.5" fill="#383f9e"/>
<circle cx="1332.26" cy="723.5" r="2.5" fill="#c42724"/>
<circle cx="1332.26" cy="727.66" r="2.5" fill="#383f9e"/>
<circle cx="1332.26" cy="732.77" r="2.5" fill="#383f9e"/>
<circle cx="1332.26" cy="735.97" r="2.5" fill="#383f9e"/>
<circle cx="1332.26" cy="738.85" r="2.5" fill="#c42724"/>
<circle cx="1332.26" cy="740.77" r="2.5" fill="#c42724"/>
<circle cx="1332.26" cy="752.77" r="2.5" fill="#c42724"/>
<circle cx="1332.26" cy="755.16" r="2.5" fill="#c42724"/>
<circle cx="1332.26" cy="757.56" r="2.5" fill="#c42724"/>
<circle cx="1332.26" cy="762.36" r="2.5" fill="#c42724"/>
<circle cx="1376.99" cy="692.79" r="2.5" fill="#c42724"/>
<circle cx="1376.99" cy="699.51" r="2.5" fill="#383f9e"/>
<circle cx="1376.99" cy="702.39" r="2.5" fill="#c42724"/>
<circle cx="1376.99" cy="719.18" r="2.5" fill="#383f9e"/>
<circle cx="1376.99" cy="723.5" r="2.5" fill="#c42724"/>
<circle cx="1376.99" cy="725.58" r="2.5" fill="#c42724"/>
<circle cx="1376.99" cy="731.98" r="2.5" fill="#383f9e"/>
<circle cx="1376.99" cy="745.57" r="2.5" fill="#c42724"/>
<circle cx="1376.99" cy="747.97" r="2.5" fill="#383f9e"/>
<circle cx="1376.99" cy="750.37" r="2.5" fill="#c42724"/>
<circle cx="1376.99" cy="753.56" r="2.5" fill="#c42724"/>
<circle cx="1376.99" cy="756.44" r="2.5" fill="#c42724"/>
<circle cx="1376.99" cy="758.36" r="2.5" fill="#c42724"/>
<circle cx="1376.99" cy="763.96" r="2.5" fill="#383f9e"/>
<circle cx="1376.99" cy="766.04" r="2.5" fill="#c42724"/>
<circle cx="1421.72" cy="691.99" r="2.5" fill="#383f9e"/>
<circle cx="1421.72" cy="696.79" r="2.5" fill="#383f9e"/>
<circle cx="1421.72" cy="699.19" r="2.5" fill="#c42724"/>
<circle cx="1421.72" cy="701.11" r="2.5" fill="#c42724"/>
<circle cx="1421.72" cy="715.18" r="2.5" fill="#383f9e"/>
<circle cx="1421.72" cy="721.9" r="2.5" fill="#c42724"/>
<circle cx="1421.72" cy="729.26" r="2.5" fill="#383f9e"/>
<circle cx="1421.72" cy="741.41" r="2.5" fill="#c42724"/>
<circle cx="1421.72" cy="749.09" r="2.5" fill="#383f9e"/>
<circle cx="1421.72" cy="753.24" r="2.5" fill="#383f9e"/>
<circle cx="1421.72" cy="755.16" r="2.5" fill="#c42724"/>
<circle cx="1421.72" cy="761.24" r="2.5" fill="#c42724"/>
<circle cx="1421.72" cy="768.92" r="2.5" fill="#383f9e"/>
<circle cx="1466.45" cy="691.51" r="2.5" fill="#c42724"/>
<circle cx="1466.45" cy="696.79" r="2.5" fill="#c42724"/>
<circle cx="1466.45" cy="698.87" r="2.5" fill="#c42724"/>
<circle cx="1466.45" cy="718.7" r="2.5" fill="#383f9e"/>
<circle cx="1466.45" cy="723.5" r="2.5" fill="#c42724"/>
<circle cx="1466.45" cy="727.18" r="2.5" fill="#383f9e"/>
<circle cx="1466.45" cy="731.5" r="2.5" fill="#383f9e"/>
<circle cx="1466.45" cy="739.97" r="2.5" fill="#c42724"/>
<circle cx="1466.45" cy="744.29" r="2.5" fill="#c42724"/>
<circle cx="1466.45" cy="749.57" r="2.5" fill="#c42724"/>
<circle cx="1466.45" cy="750.37" r="2.5" fill="#383f9e"/>
<circle cx="1466.45" cy="753.56" r="2.5" fill="#c42724"/>
<circle cx="1466.45" cy="756.76" r="2.5" fill="#c42724"/>
<circle cx="1466.45" cy="759.96" r="2.5" fill="#c42724"/>
<circle cx="1466.45" cy="763.16" r="2.5" fill="#383f9e"/>
<circle cx="1511.18" cy="694.87" r="2.5" fill="#383f9e"/>
<circle cx="1511.18" cy="721.9" r="2.5" fill="#c42724"/>
<circle cx="1511.18" cy="742.37" r="2.5" fill="#c42724"/>
<circle cx="1511.18" cy="753.56" r="2.5" fill="#383f9e"/>
<circle cx="1511.18" cy="756.44" r="2.5" fill="#c42724"/>
<circle cx="1511.18" cy="760.76" r="2.5" fill="#c42724"/>
<text x="1598.74" y="631.6" font-size="54" fill="#000">d</text>
<line x1="1767.8" y1="625.6" x2="1767.8" y2="907.15" stroke="#262626" stroke-width="1.15"/>
<line x1="1767.8" y1="625.6" x2="1772.8" y2="625.6" stroke="#262626" stroke-width="1.15"/>
<text x="1746.04" y="636.4" font-size="31" fill="#262626">0</text>
<line x1="1767.8" y1="719.45" x2="1772.8" y2="719.45" stroke="#262626" stroke-width="1.15"/>
<text x="1706.73" y="730.25" font-size="31" fill="#262626">-0.1</text>
<line x1="1767.8" y1="813.3" x2="1772.8" y2="813.3" stroke="#262626" stroke-width="1.15"/>
<text x="1710.23" y="824.1" font-size="31" fill="#262626">-0.2</text>
<line x1="1767.8" y1="907.15" x2="1772.8" y2="907.15" stroke="#262626" stroke-width="1.15"/>
<text x="1710.08" y="917.95" font-size="31" fill="#262626">-0.3</text>
<line x1="1793.5" y1="954.3" x2="2097.7" y2="954.3" stroke="#262626" stroke-width="1.15"/>
<line x1="1793.5" y1="954.3" x2="1793.5" y2="948.8" stroke="#262626" stroke-width="1.15"/>
<text x="1784.51" y="983.6" font-size="31" fill="#262626">1</text>
<line x1="1844.2" y1="954.3" x2="1844.2" y2="948.8" stroke="#262626" stroke-width="1.15"/>
<text x="1835.6" y="983.6" font-size="31" fill="#262626">2</text>
<line x1="1894.9" y1="954.3" x2="1894.9" y2="948.8" stroke="#262626" stroke-width="1.15"/>
<text x="1886.38" y="983.6" font-size="31" fill="#262626">3</text>
<line x1="1945.6" y1="954.3" x2="1945.6" y2="948.8" stroke="#262626" stroke-width="1.15"/>
<text x="1937.07" y="983.6" font-size="31" fill="#262626">4</text>
<line x1="1996.3" y1="954.3" x2="1996.3" y2="948.8" stroke="#262626" stroke-width="1.15"/>
<text x="1987.7" y="983.6" font-size="31" fill="#262626">5</text>
<line x1="2047" y1="954.3" x2="2047" y2="948.8" stroke="#262626" stroke-width="1.15"/>
<text x="2038.32" y="983.6" font-size="31" fill="#262626">6</text>
<line x1="2097.7" y1="954.3" x2="2097.7" y2="948.8" stroke="#262626" stroke-width="1.15"/>
<text x="2089.1" y="983.6" font-size="31" fill="#262626">7</text>
<text x="1924.54" y="1026" font-size="31" fill="#262626" textLength="41.52" lengthAdjust="spacingAndGlyphs">trial</text>
<text transform="translate(1686.4 879.04) rotate(-90)" x="0" y="0" font-size="31" fill="#262626" textLength="218.21" lengthAdjust="spacingAndGlyphs">decay rate (tau)</text>
<line x1="1784.65" y1="737.59" x2="1784.65" y2="752.26" stroke="#333333" stroke-width="1.3"/>
<line x1="1784.65" y1="811.22" x2="1784.65" y2="838.05" stroke="#333333" stroke-width="1.3"/>
<rect x="1778.1" y="752.26" width="13.1" height="58.96" fill="#d9d9f5" stroke="#2f3990" stroke-width="1.3"/>
<line x1="1778.1" y1="756.31" x2="1791.2" y2="756.31" stroke="#2f3990" stroke-width="1.3"/>
<circle cx="1784.65" cy="737.59" r="2.5" fill="#383f9e"/>
<circle cx="1784.65" cy="749.29" r="2.5" fill="#383f9e"/>
<circle cx="1784.65" cy="752.26" r="2.5" fill="#383f9e"/>
<circle cx="1784.65" cy="755.84" r="2.5" fill="#383f9e"/>
<circle cx="1784.65" cy="759.74" r="2.5" fill="#383f9e"/>
<circle cx="1784.65" cy="801.86" r="2.5" fill="#383f9e"/>
<circle cx="1784.65" cy="838.05" r="2.5" fill="#383f9e"/>
<ellipse cx="1784.65" cy="737.59" rx="3.4" ry="2.3" fill="#383f9e"/>
<ellipse cx="1784.65" cy="838.05" rx="3.4" ry="2.3" fill="#383f9e"/>
<line x1="1801.34" y1="739.15" x2="1801.34" y2="749.29" stroke="#333333" stroke-width="1.3"/>
<line x1="1801.34" y1="834.61" x2="1801.34" y2="862.69" stroke="#333333" stroke-width="1.3"/>
<rect x="1794.79" y="749.29" width="13.1" height="85.32" fill="#fcdacb" stroke="#a9332a" stroke-width="1.3"/>
<line x1="1794.79" y1="758.49" x2="1807.89" y2="758.49" stroke="#a9332a" stroke-width="1.3"/>
<circle cx="1801.34" cy="739.15" r="2.5" fill="#c42724"/>
<circle cx="1801.34" cy="747.26" r="2.5" fill="#c42724"/>
<circle cx="1801.34" cy="750.07" r="2.5" fill="#c42724"/>
<circle cx="1801.34" cy="759.74" r="2.5" fill="#c42724"/>
<circle cx="1801.34" cy="762.86" r="2.5" fill="#c42724"/>
<circle cx="1801.34" cy="824.94" r="2.5" fill="#c42724"/>
<circle cx="1801.34" cy="862.69" r="2.5" fill="#c42724"/>
<ellipse cx="1801.34" cy="739.15" rx="3.4" ry="2.3" fill="#c42724"/>
<ellipse cx="1801.34" cy="862.69" rx="3.4" ry="2.3" fill="#c42724"/>
<line x1="1835.35" y1="703.12" x2="1835.35" y2="747.58" stroke="#333333" stroke-width="1.3"/>
<line x1="1835.35" y1="801.86" x2="1835.35" y2="836.95" stroke="#333333" stroke-width="1.3"/>
<rect x="1828.8" y="747.58" width="13.1" height="54.28" fill="#d9d9f5" stroke="#2f3990" stroke-width="1.3"/>
<line x1="1828.8" y1="755.53" x2="1841.9" y2="755.53" stroke="#2f3990" stroke-width="1.3"/>
<circle cx="1835.35" cy="703.12" r="2.5" fill="#383f9e"/>
<circle cx="1835.35" cy="738.37" r="2.5" fill="#383f9e"/>
<circle cx="1835.35" cy="750.07" r="2.5" fill="#383f9e"/>
<circle cx="1835.35" cy="752.26" r="2.5" fill="#383f9e"/>
<circle cx="1835.35" cy="754.28" r="2.5" fill="#383f9e"/>
<circle cx="1835.35" cy="756.62" r="2.5" fill="#383f9e"/>
<circle cx="1835.35" cy="789.85" r="2.5" fill="#383f9e"/>
<circle cx="1835.35" cy="836.95" r="2.5" fill="#383f9e"/>
<ellipse cx="1835.35" cy="703.12" rx="3.4" ry="2.3" fill="#383f9e"/>
<ellipse cx="1835.35" cy="836.95" rx="3.4" ry="2.3" fill="#383f9e"/>
<line x1="1852.19" y1="713.73" x2="1852.19" y2="751.48" stroke="#333333" stroke-width="1.3"/>
<rect x="1845.64" y="751.48" width="13.1" height="42.9" fill="#fcdacb" stroke="#a9332a" stroke-width="1.3"/>
<line x1="1845.64" y1="758.18" x2="1858.74" y2="758.18" stroke="#a9332a" stroke-width="1.3"/>
<circle cx="1852.19" cy="713.73" r="2.5" fill="#c42724"/>
<circle cx="1852.19" cy="743.36" r="2.5" fill="#c42724"/>
<circle cx="1852.19" cy="755.84" r="2.5" fill="#c42724"/>
<circle cx="1852.19" cy="758.18" r="2.5" fill="#c42724"/>
<circle cx="1852.19" cy="760.52" r="2.5" fill="#c42724"/>
<circle cx="1852.19" cy="762.86" r="2.5" fill="#c42724"/>
<circle cx="1852.19" cy="887.65" r="2.5" fill="#c42724"/>
<ellipse cx="1852.19" cy="713.73" rx="3.4" ry="2.3" fill="#c42724"/>
<rect x="1879.65" y="725.43" width="13.1" height="31.66" fill="#d9d9f5" stroke="#2f3990" stroke-width="1.3"/>
<line x1="1879.65" y1="751.16" x2="1892.75" y2="751.16" stroke="#2f3990" stroke-width="1.3"/>
<circle cx="1886.2" cy="642.76" r="2.5" fill="#383f9e"/>
<circle cx="1886.2" cy="663.03" r="2.5" fill="#383f9e"/>
<circle cx="1886.2" cy="745.39" r="2.5" fill="#383f9e"/>
<circle cx="1886.2" cy="748.82" r="2.5" fill="#383f9e"/>
<circle cx="1886.2" cy="751.94" r="2.5" fill="#383f9e"/>
<circle cx="1886.2" cy="755.06" r="2.5" fill="#383f9e"/>
<circle cx="1886.2" cy="758.96" r="2.5" fill="#383f9e"/>
<circle cx="1886.2" cy="911.82" r="2.5" fill="#383f9e"/>
<line x1="1903.04" y1="736.03" x2="1903.04" y2="752.26" stroke="#333333" stroke-width="1.3"/>
<rect x="1896.49" y="752.26" width="13.1" height="19.19" fill="#fcdacb" stroke="#a9332a" stroke-width="1.3"/>
<line x1="1896.49" y1="755.06" x2="1909.59" y2="755.06" stroke="#a9332a" stroke-width="1.3"/>
<circle cx="1903.04" cy="736.03" r="2.5" fill="#c42724"/>
<circle cx="1903.04" cy="751.16" r="2.5" fill="#c42724"/>
<circle cx="1903.04" cy="754.28" r="2.5" fill="#c42724"/>
<circle cx="1903.04" cy="757.4" r="2.5" fill="#c42724"/>
<circle cx="1903.04" cy="760.05" r="2.5" fill="#c42724"/>
<circle cx="1903.04" cy="806.23" r="2.5" fill="#c42724"/>
<ellipse cx="1903.04" cy="736.03" rx="3.4" ry="2.3" fill="#c42724"/>
<rect x="1930.46" y="745.7" width="13.1" height="33.54" fill="#d9d9f5" stroke="#2f3990" stroke-width="1.3"/>
<line x1="1930.46" y1="752.26" x2="1943.56" y2="752.26" stroke="#2f3990" stroke-width="1.3"/>
<circle cx="1937.01" cy="626.07" r="2.5" fill="#383f9e"/>
<circle cx="1937.01" cy="744.46" r="2.5" fill="#383f9e"/>
<circle cx="1937.01" cy="751.16" r="2.5" fill="#383f9e"/>
<circle cx="1937.01" cy="755.06" r="2.5" fill="#383f9e"/>
<circle cx="1937.01" cy="758.96" r="2.5" fill="#383f9e"/>
<circle cx="1937.01" cy="838.98" r="2.5" fill="#383f9e"/>
<circle cx="1937.01" cy="883.28" r="2.5" fill="#383f9e"/>
<line x1="1954.17" y1="736.35" x2="1954.17" y2="744.46" stroke="#333333" stroke-width="1.3"/>
<rect x="1947.62" y="744.46" width="13.1" height="11.85" fill="#fcdacb" stroke="#a9332a" stroke-width="1.3"/>
<line x1="1947.62" y1="750.38" x2="1960.72" y2="750.38" stroke="#a9332a" stroke-width="1.3"/>
<circle cx="1954.17" cy="707.96" r="2.5" fill="#c42724"/>
<circle cx="1954.17" cy="736.35" r="2.5" fill="#c42724"/>
<circle cx="1954.17" cy="747.26" r="2.5" fill="#c42724"/>
<circle cx="1954.17" cy="750.38" r="2.5" fill="#c42724"/>
<circle cx="1954.17" cy="756.62" r="2.5" fill="#c42724"/>
<circle cx="1954.17" cy="783.92" r="2.5" fill="#c42724"/>
<ellipse cx="1954.17" cy="736.35" rx="3.4" ry="2.3" fill="#c42724"/>
<line x1="1987.7" y1="692.67" x2="1987.7" y2="709.36" stroke="#333333" stroke-width="1.3"/>
<rect x="1981.15" y="709.36" width="13.1" height="44.92" fill="#d9d9f5" stroke="#2f3990" stroke-width="1.3"/>
<line x1="1981.15" y1="749.6" x2="1994.25" y2="749.6" stroke="#2f3990" stroke-width="1.3"/>
<circle cx="1987.7" cy="629.5" r="2.5" fill="#383f9e"/>
<circle cx="1987.7" cy="692.67" r="2.5" fill="#383f9e"/>
<circle cx="1987.7" cy="715.29" r="2.5" fill="#383f9e"/>
<circle cx="1987.7" cy="747.26" r="2.5" fill="#383f9e"/>
<circle cx="1987.7" cy="751.16" r="2.5" fill="#383f9e"/>
<circle cx="1987.7" cy="754.28" r="2.5" fill="#383f9e"/>
<circle cx="1987.7" cy="756.62" r="2.5" fill="#383f9e"/>
<ellipse cx="1987.7" cy="692.67" rx="3.4" ry="2.3" fill="#383f9e"/>
<line x1="2004.86" y1="726.99" x2="2004.86" y2="742.58" stroke="#333333" stroke-width="1.3"/>
<rect x="1998.31" y="742.58" width="13.1" height="13.73" fill="#fcdacb" stroke="#a9332a" stroke-width="1.3"/>
<line x1="1998.31" y1="751.16" x2="2011.41" y2="751.16" stroke="#a9332a" stroke-width="1.3"/>
<circle cx="2004.86" cy="629.5" r="2.5" fill="#c42724"/>
<circle cx="2004.86" cy="726.99" r="2.5" fill="#c42724"/>
<circle cx="2004.86" cy="747.26" r="2.5" fill="#c42724"/>
<circle cx="2004.86" cy="750.38" r="2.5" fill="#c42724"/>
<circle cx="2004.86" cy="753.5" r="2.5" fill="#c42724"/>
<circle cx="2004.86" cy="757.4" r="2.5" fill="#c42724"/>
<circle cx="2004.86" cy="911.82" r="2.5" fill="#c42724"/>
<ellipse cx="2004.86" cy="726.99" rx="3.4" ry="2.3" fill="#c42724"/>
<line x1="2038.71" y1="764.89" x2="2038.71" y2="789.85" stroke="#333333" stroke-width="1.3"/>
<rect x="2032.16" y="741.49" width="13.1" height="23.4" fill="#d9d9f5" stroke="#2f3990" stroke-width="1.3"/>
<line x1="2032.16" y1="749.6" x2="2045.26" y2="749.6" stroke="#2f3990" stroke-width="1.3"/>
<circle cx="2038.71" cy="687.68" r="2.5" fill="#383f9e"/>
<circle cx="2038.71" cy="739.46" r="2.5" fill="#383f9e"/>
<circle cx="2038.71" cy="741.8" r="2.5" fill="#383f9e"/>
<circle cx="2038.71" cy="744.14" r="2.5" fill="#383f9e"/>
<circle cx="2038.71" cy="749.6" r="2.5" fill="#383f9e"/>
<circle cx="2038.71" cy="755.84" r="2.5" fill="#383f9e"/>
<circle cx="2038.71" cy="789.85" r="2.5" fill="#383f9e"/>
<ellipse cx="2038.71" cy="789.85" rx="3.4" ry="2.3" fill="#383f9e"/>
<line x1="2055.56" y1="641.98" x2="2055.56" y2="707.02" stroke="#333333" stroke-width="1.3"/>
<line x1="2055.56" y1="756.31" x2="2055.56" y2="794.06" stroke="#333333" stroke-width="1.3"/>
<rect x="2049.01" y="707.02" width="13.1" height="49.29" fill="#fcdacb" stroke="#a9332a" stroke-width="1.3"/>
<line x1="2049.01" y1="752.72" x2="2062.11" y2="752.72" stroke="#a9332a" stroke-width="1.3"/>
<circle cx="2055.56" cy="641.98" r="2.5" fill="#c42724"/>
<circle cx="2055.56" cy="705.93" r="2.5" fill="#c42724"/>
<circle cx="2055.56" cy="725.11" r="2.5" fill="#c42724"/>
<circle cx="2055.56" cy="750.38" r="2.5" fill="#c42724"/>
<circle cx="2055.56" cy="752.72" r="2.5" fill="#c42724"/>
<circle cx="2055.56" cy="755.84" r="2.5" fill="#c42724"/>
<circle cx="2055.56" cy="759.74" r="2.5" fill="#c42724"/>
<circle cx="2055.56" cy="794.06" r="2.5" fill="#c42724"/>
<ellipse cx="2055.56" cy="641.98" rx="3.4" ry="2.3" fill="#c42724"/>
<ellipse cx="2055.56" cy="794.06" rx="3.4" ry="2.3" fill="#c42724"/>
<line x1="2089.4" y1="703.12" x2="2089.4" y2="732.45" stroke="#333333" stroke-width="1.3"/>
<rect x="2082.85" y="732.45" width="13.1" height="24.18" fill="#d9d9f5" stroke="#2f3990" stroke-width="1.3"/>
<line x1="2082.85" y1="746.48" x2="2095.95" y2="746.48" stroke="#2f3990" stroke-width="1.3"/>
<circle cx="2089.4" cy="703.12" r="2.5" fill="#383f9e"/>
<circle cx="2089.4" cy="717.63" r="2.5" fill="#383f9e"/>
<circle cx="2089.4" cy="737.59" r="2.5" fill="#383f9e"/>
<circle cx="2089.4" cy="746.48" r="2.5" fill="#383f9e"/>
<circle cx="2089.4" cy="755.84" r="2.5" fill="#383f9e"/>
<circle cx="2089.4" cy="838.98" r="2.5" fill="#383f9e"/>
<ellipse cx="2089.4" cy="703.12" rx="3.4" ry="2.3" fill="#383f9e"/>
<line x1="2106.6" y1="736.1" x2="2106.6" y2="745.1" stroke="#333333" stroke-width="1.3"/>
<rect x="2100.05" y="745.1" width="13.1" height="12.2" fill="#fcdacb" stroke="#a9332a" stroke-width="1.3"/>
<line x1="2100.05" y1="748.6" x2="2113.15" y2="748.6" stroke="#a9332a" stroke-width="1.3"/>
<circle cx="2106.6" cy="675.3" r="2.5" fill="#c42724"/>
<circle cx="2106.6" cy="736.1" r="2.5" fill="#c42724"/>
<circle cx="2106.6" cy="745.1" r="2.5" fill="#c42724"/>
<circle cx="2106.6" cy="748.6" r="2.5" fill="#c42724"/>
<circle cx="2106.6" cy="752.8" r="2.5" fill="#c42724"/>
<circle cx="2106.6" cy="761.7" r="2.5" fill="#c42724"/>
<circle cx="2106.6" cy="805.3" r="2.5" fill="#c42724"/>
<ellipse cx="2106.6" cy="736.1" rx="3.4" ry="2.3" fill="#c42724"/>
<text x="4.37" y="1096" font-size="54" fill="#000">e</text>
<line x1="193.75" y1="1185.4" x2="193.75" y2="1555.3" stroke="#262626" stroke-width="1.15"/>
<line x1="193.75" y1="1555.3" x2="545" y2="1555.3" stroke="#262626" stroke-width="1.15"/>
<line x1="193.75" y1="1555.3" x2="198.05" y2="1555.3" stroke="#262626" stroke-width="1.15"/>
<text x="168.78" y="1566.1" font-size="31" fill="#262626">0</text>
<line x1="193.75" y1="1370.35" x2="198.05" y2="1370.35" stroke="#262626" stroke-width="1.15"/>
<text x="142.9" y="1381.15" font-size="31" fill="#262626">0.5</text>
<line x1="193.75" y1="1185.4" x2="198.05" y2="1185.4" stroke="#262626" stroke-width="1.15"/>
<text x="169.09" y="1196.2" font-size="31" fill="#262626">1</text>
<text x="185.15" y="1589.4" font-size="31" fill="#262626">0</text>
<line x1="264" y1="1555.3" x2="264" y2="1551" stroke="#262626" stroke-width="1.15"/>
<text x="248.96" y="1589.4" font-size="31" fill="#262626">0.5</text>
<line x1="334.25" y1="1555.3" x2="334.25" y2="1551" stroke="#262626" stroke-width="1.15"/>
<text x="325.26" y="1589.4" font-size="31" fill="#262626">1</text>
<line x1="404.5" y1="1555.3" x2="404.5" y2="1551" stroke="#262626" stroke-width="1.15"/>
<text x="388.91" y="1589.4" font-size="31" fill="#262626">1.5</text>
<line x1="474.75" y1="1555.3" x2="474.75" y2="1551" stroke="#262626" stroke-width="1.15"/>
<text x="466.15" y="1589.4" font-size="31" fill="#262626">2</text>
<line x1="545" y1="1555.3" x2="545" y2="1551" stroke="#262626" stroke-width="1.15"/>
<text x="529.8" y="1589.4" font-size="31" fill="#262626">2.5</text>
<line x1="684.4" y1="1185.4" x2="684.4" y2="1555.3" stroke="#262626" stroke-width="1.15"/>
<line x1="684.4" y1="1555.3" x2="1035.65" y2="1555.3" stroke="#262626" stroke-width="1.15"/>
<line x1="684.4" y1="1555.3" x2="688.7" y2="1555.3" stroke="#262626" stroke-width="1.15"/>
<text x="659.43" y="1566.1" font-size="31" fill="#262626">0</text>
<line x1="684.4" y1="1370.35" x2="688.7" y2="1370.35" stroke="#262626" stroke-width="1.15"/>
<text x="633.55" y="1381.15" font-size="31" fill="#262626">0.5</text>
<line x1="684.4" y1="1185.4" x2="688.7" y2="1185.4" stroke="#262626" stroke-width="1.15"/>
<text x="659.75" y="1196.2" font-size="31" fill="#262626">1</text>
<text x="675.8" y="1589.4" font-size="31" fill="#262626">0</text>
<line x1="754.65" y1="1555.3" x2="754.65" y2="1551" stroke="#262626" stroke-width="1.15"/>
<text x="739.61" y="1589.4" font-size="31" fill="#262626">0.5</text>
<line x1="824.9" y1="1555.3" x2="824.9" y2="1551" stroke="#262626" stroke-width="1.15"/>
<text x="815.91" y="1589.4" font-size="31" fill="#262626">1</text>
<line x1="895.15" y1="1555.3" x2="895.15" y2="1551" stroke="#262626" stroke-width="1.15"/>
<text x="879.56" y="1589.4" font-size="31" fill="#262626">1.5</text>
<line x1="965.4" y1="1555.3" x2="965.4" y2="1551" stroke="#262626" stroke-width="1.15"/>
<text x="956.8" y="1589.4" font-size="31" fill="#262626">2</text>
<line x1="1035.65" y1="1555.3" x2="1035.65" y2="1551" stroke="#262626" stroke-width="1.15"/>
<text x="1020.45" y="1589.4" font-size="31" fill="#262626">2.5</text>
<line x1="1162.9" y1="1185.4" x2="1162.9" y2="1555.3" stroke="#262626" stroke-width="1.15"/>
<line x1="1162.9" y1="1555.3" x2="1514.15" y2="1555.3" stroke="#262626" stroke-width="1.15"/>
<line x1="1162.9" y1="1555.3" x2="1167.2" y2="1555.3" stroke="#262626" stroke-width="1.15"/>
<text x="1137.94" y="1566.1" font-size="31" fill="#262626">0</text>
<line x1="1162.9" y1="1370.35" x2="1167.2" y2="1370.35" stroke="#262626" stroke-width="1.15"/>
<text x="1112.05" y="1381.15" font-size="31" fill="#262626">0.5</text>
<line x1="1162.9" y1="1185.4" x2="1167.2" y2="1185.4" stroke="#262626" stroke-width="1.15"/>
<text x="1138.25" y="1196.2" font-size="31" fill="#262626">1</text>
<text x="1154.3" y="1589.4" font-size="31" fill="#262626">0</text>
<line x1="1233.15" y1="1555.3" x2="1233.15" y2="1551" stroke="#262626" stroke-width="1.15"/>
<text x="1218.11" y="1589.4" font-size="31" fill="#262626">0.5</text>
<line x1="1303.4" y1="1555.3" x2="1303.4" y2="1551" stroke="#262626" stroke-width="1.15"/>
<text x="1294.41" y="1589.4" font-size="31" fill="#262626">1</text>
<line x1="1373.65" y1="1555.3" x2="1373.65" y2="1551" stroke="#262626" stroke-width="1.15"/>
<text x="1358.06" y="1589.4" font-size="31" fill="#262626">1.5</text>
<line x1="1443.9" y1="1555.3" x2="1443.9" y2="1551" stroke="#262626" stroke-width="1.15"/>
<text x="1435.3" y="1589.4" font-size="31" fill="#262626">2</text>
<line x1="1514.15" y1="1555.3" x2="1514.15" y2="1551" stroke="#262626" stroke-width="1.15"/>
<text x="1498.95" y="1589.4" font-size="31" fill="#262626">2.5</text>
<text x="285.74" y="1628.6" font-size="31" fill="#262626" textLength="182.21" lengthAdjust="spacingAndGlyphs">frequency (Hz)</text>
<text x="781.13" y="1628.6" font-size="31" fill="#262626" textLength="182.41" lengthAdjust="spacingAndGlyphs">frequency (Hz)</text>
<text x="1249.13" y="1628.6" font-size="31" fill="#262626" textLength="181.41" lengthAdjust="spacingAndGlyphs">frequency (Hz)</text>
<text x="333.67" y="1163.8" font-size="33.5" font-weight="bold" fill="#262626" textLength="90.87" lengthAdjust="spacingAndGlyphs">trial 1</text>
<text x="795.16" y="1163.8" font-size="33.5" font-weight="bold" fill="#262626" textLength="91.8" lengthAdjust="spacingAndGlyphs">trial 4</text>
<text x="1272.87" y="1163.8" font-size="33.5" font-weight="bold" fill="#262626" textLength="88.24" lengthAdjust="spacingAndGlyphs">trial 7</text>
<text transform="translate(117.2 1453.28) rotate(-90)" x="0" y="0" font-size="32" fill="#262626" textLength="172.33" lengthAdjust="spacingAndGlyphs">relative power</text>
<text transform="translate(58.1 1451.14) rotate(-90)" x="0" y="0" font-size="36" font-weight="bold" fill="#262626" textLength="169.39" lengthAdjust="spacingAndGlyphs">during CS</text>
<text x="427.69" y="1538.5" font-size="31" fill="#262626" textLength="118.42" lengthAdjust="spacingAndGlyphs">baseline</text>
<line x1="339.6" y1="1198.4" x2="356.2" y2="1198.4" stroke="#3c48a6" stroke-width="4.3"/>
<line x1="339.6" y1="1225.8" x2="356.2" y2="1225.8" stroke="#d3281f" stroke-width="4.3"/>
<text x="367.38" y="1203.4" font-size="31" fill="#262626" textLength="172.66" lengthAdjust="spacingAndGlyphs">no distractor</text>
<text x="368.16" y="1234.5" font-size="31" fill="#262626" textLength="128.58" lengthAdjust="spacingAndGlyphs">distractor</text>
<circle cx="242.7" cy="1426.5" r="2.5" fill="#383f9e"/>
<circle cx="244.2" cy="1449.7" r="2.5" fill="#383f9e"/>
<circle cx="244.2" cy="1455.3" r="2.5" fill="#383f9e"/>
<circle cx="246.4" cy="1466" r="2.5" fill="#383f9e"/>
<circle cx="256" cy="1454.1" r="2.5" fill="#383f9e"/>
<circle cx="273" cy="1447.3" r="2.5" fill="#383f9e"/>
<circle cx="289.7" cy="1445.7" r="2.5" fill="#383f9e"/>
<circle cx="286.6" cy="1461.8" r="2.5" fill="#383f9e"/>
<circle cx="303" cy="1436.5" r="2.5" fill="#383f9e"/>
<circle cx="250.4" cy="1424.7" r="2.5" fill="#c42724"/>
<circle cx="242.7" cy="1433.3" r="2.5" fill="#c42724"/>
<circle cx="245.8" cy="1429.6" r="2.5" fill="#c42724"/>
<circle cx="259.7" cy="1438" r="2.5" fill="#c42724"/>
<circle cx="271.5" cy="1449.4" r="2.5" fill="#c42724"/>
<circle cx="271.5" cy="1455.9" r="2.5" fill="#c42724"/>
<circle cx="321.5" cy="1425.6" r="2.5" fill="#c42724"/>
<circle cx="340.1" cy="1446.7" r="2.5" fill="#c42724"/>
<circle cx="361.1" cy="1435.8" r="2.5" fill="#c42724"/>
<circle cx="829.72" cy="1436.21" r="2.5" fill="#383f9e"/>
<circle cx="847.28" cy="1412.9" r="2.5" fill="#383f9e"/>
<circle cx="848.72" cy="1431.61" r="2.5" fill="#383f9e"/>
<circle cx="873.18" cy="1440.24" r="2.5" fill="#383f9e"/>
<circle cx="875.2" cy="1424.7" r="2.5" fill="#383f9e"/>
<circle cx="877.5" cy="1429.02" r="2.5" fill="#383f9e"/>
<circle cx="911.76" cy="1424.7" r="2.5" fill="#383f9e"/>
<circle cx="919.82" cy="1404.26" r="2.5" fill="#383f9e"/>
<circle cx="944.86" cy="1427.58" r="2.5" fill="#383f9e"/>
<circle cx="804.1" cy="1415.2" r="2.5" fill="#c42724"/>
<circle cx="819.64" cy="1417.5" r="2.5" fill="#c42724"/>
<circle cx="856.49" cy="1386.99" r="2.5" fill="#c42724"/>
<circle cx="850.73" cy="1429.02" r="2.5" fill="#c42724"/>
<circle cx="862.25" cy="1443.12" r="2.5" fill="#c42724"/>
<circle cx="889.59" cy="1446.29" r="2.5" fill="#c42724"/>
<circle cx="897.65" cy="1440.24" r="2.5" fill="#c42724"/>
<circle cx="927.88" cy="1411.46" r="2.5" fill="#c42724"/>
<circle cx="931.33" cy="1395.62" r="2.5" fill="#c42724"/>
<circle cx="1425.72" cy="1326.54" r="2.5" fill="#383f9e"/>
<circle cx="1414.21" cy="1356.76" r="2.5" fill="#383f9e"/>
<circle cx="1444.43" cy="1387.85" r="2.5" fill="#383f9e"/>
<circle cx="1430.62" cy="1393.03" r="2.5" fill="#383f9e"/>
<circle cx="1430.62" cy="1405.7" r="2.5" fill="#383f9e"/>
<circle cx="1399.24" cy="1414.34" r="2.5" fill="#383f9e"/>
<circle cx="1374.48" cy="1418.65" r="2.5" fill="#383f9e"/>
<circle cx="1422.84" cy="1418.94" r="2.5" fill="#383f9e"/>
<circle cx="1462.57" cy="1421.53" r="2.5" fill="#383f9e"/>
<circle cx="1385.42" cy="1368.57" r="2.5" fill="#c42724"/>
<circle cx="1409.89" cy="1384.4" r="2.5" fill="#c42724"/>
<circle cx="1437.81" cy="1417.21" r="2.5" fill="#c42724"/>
<circle cx="1432.92" cy="1425.27" r="2.5" fill="#c42724"/>
<circle cx="1460.26" cy="1413.76" r="2.5" fill="#c42724"/>
<circle cx="1375.92" cy="1431.61" r="2.5" fill="#c42724"/>
<circle cx="1390.6" cy="1438.23" r="2.5" fill="#c42724"/>
<circle cx="1422.84" cy="1438.8" r="2.5" fill="#c42724"/>
<circle cx="1465.45" cy="1441.11" r="2.5" fill="#c42724"/>
<polyline points="207.8,1555.3 221.85,1546.42 235.9,1355.55 249.95,1546.42 264,1547.53 278.05,1547.9 292.1,1548.27 306.15,1548.27 320.2,1548.27 334.25,1548.27 348.3,1547.9 362.35,1547.9 376.4,1548.64 390.45,1549.38 404.5,1549.01 418.55,1547.53 432.6,1548.27 446.65,1549.01 460.7,1549.38 474.75,1549.75 488.8,1549.75 502.85,1549.38 516.9,1548.64 530.95,1548.64 545,1548.64" fill="none" stroke="#111111" stroke-width="1.5" stroke-linejoin="round" stroke-linecap="round" stroke-linejoin="miter"/>
<polyline points="698.45,1555.3 712.5,1546.42 726.55,1355.55 740.6,1546.42 754.65,1547.53 768.7,1547.9 782.75,1548.27 796.8,1548.27 810.85,1548.27 824.9,1548.27 838.95,1547.9 853,1547.9 867.05,1548.64 881.1,1549.38 895.15,1549.01 909.2,1547.53 923.25,1548.27 937.3,1549.01 951.35,1549.38 965.4,1549.75 979.45,1549.75 993.5,1549.38 1007.55,1548.64 1021.6,1548.64 1035.65,1548.64" fill="none" stroke="#111111" stroke-width="1.5" stroke-linejoin="round" stroke-linecap="round" stroke-linejoin="miter"/>
<polyline points="1176.95,1555.3 1191,1546.42 1205.05,1355.55 1219.1,1546.42 1233.15,1547.53 1247.2,1547.9 1261.25,1548.27 1275.3,1548.27 1289.35,1548.27 1303.4,1548.27 1317.45,1547.9 1331.5,1547.9 1345.55,1548.64 1359.6,1549.38 1373.65,1549.01 1387.7,1547.53 1401.75,1548.27 1415.8,1549.01 1429.85,1549.38 1443.9,1549.75 1457.95,1549.75 1472,1549.38 1486.05,1548.64 1500.1,1548.64 1514.15,1548.64" fill="none" stroke="#111111" stroke-width="1.5" stroke-linejoin="round" stroke-linecap="round" stroke-linejoin="miter"/>
<text x="1596.19" y="1096" font-size="54" fill="#000">f</text>
<line x1="1765.6" y1="1172.1" x2="1765.6" y2="1552.5" stroke="#262626" stroke-width="1.15"/>
<line x1="1765.6" y1="1552.5" x2="1769.8" y2="1552.5" stroke="#262626" stroke-width="1.15"/>
<text x="1738.74" y="1563.3" font-size="31" fill="#262626">0</text>
<line x1="1765.6" y1="1476.42" x2="1769.8" y2="1476.42" stroke="#262626" stroke-width="1.15"/>
<text x="1712.85" y="1487.22" font-size="31" fill="#262626">0.5</text>
<line x1="1765.6" y1="1400.34" x2="1769.8" y2="1400.34" stroke="#262626" stroke-width="1.15"/>
<text x="1739.05" y="1411.14" font-size="31" fill="#262626">1</text>
<line x1="1765.6" y1="1324.26" x2="1769.8" y2="1324.26" stroke="#262626" stroke-width="1.15"/>
<text x="1712.85" y="1335.06" font-size="31" fill="#262626">1.5</text>
<line x1="1765.6" y1="1248.18" x2="1769.8" y2="1248.18" stroke="#262626" stroke-width="1.15"/>
<text x="1739.05" y="1258.98" font-size="31" fill="#262626">2</text>
<line x1="1765.6" y1="1172.1" x2="1769.8" y2="1172.1" stroke="#262626" stroke-width="1.15"/>
<text x="1712.85" y="1182.9" font-size="31" fill="#262626">2.5</text>
<line x1="1791.2" y1="1552.5" x2="2101.1" y2="1552.5" stroke="#262626" stroke-width="1.15"/>
<line x1="1791.2" y1="1552.5" x2="1791.2" y2="1548.3" stroke="#262626" stroke-width="1.15"/>
<text x="1782.21" y="1593.6" font-size="31" fill="#262626">1</text>
<line x1="1842.85" y1="1552.5" x2="1842.85" y2="1548.3" stroke="#262626" stroke-width="1.15"/>
<text x="1834.25" y="1593.6" font-size="31" fill="#262626">2</text>
<line x1="1894.5" y1="1552.5" x2="1894.5" y2="1548.3" stroke="#262626" stroke-width="1.15"/>
<text x="1885.97" y="1593.6" font-size="31" fill="#262626">3</text>
<line x1="1946.15" y1="1552.5" x2="1946.15" y2="1548.3" stroke="#262626" stroke-width="1.15"/>
<text x="1937.62" y="1593.6" font-size="31" fill="#262626">4</text>
<line x1="1997.8" y1="1552.5" x2="1997.8" y2="1548.3" stroke="#262626" stroke-width="1.15"/>
<text x="1989.2" y="1593.6" font-size="31" fill="#262626">5</text>
<line x1="2049.45" y1="1552.5" x2="2049.45" y2="1548.3" stroke="#262626" stroke-width="1.15"/>
<text x="2040.77" y="1593.6" font-size="31" fill="#262626">6</text>
<line x1="2101.1" y1="1552.5" x2="2101.1" y2="1548.3" stroke="#262626" stroke-width="1.15"/>
<text x="2092.5" y="1593.6" font-size="31" fill="#262626">7</text>
<text x="1923.54" y="1626.3" font-size="31" fill="#262626" textLength="41.52" lengthAdjust="spacingAndGlyphs">trial</text>
<text transform="translate(1682.8 1444.46) rotate(-90)" x="0" y="0" font-size="31" fill="#262626" textLength="181.81" lengthAdjust="spacingAndGlyphs">frequency (Hz)</text>
<text x="1857.2" y="1126.7" font-size="35" font-weight="bold" fill="#262626" textLength="169.61" lengthAdjust="spacingAndGlyphs">during CS</text>
<line x1="1782.85" y1="1434.15" x2="1782.85" y2="1451.26" stroke="#333333" stroke-width="1.3"/>
<rect x="1776.3" y="1451.26" width="13.1" height="48.91" fill="#d9d9f5" stroke="#2f3990" stroke-width="1.3"/>
<line x1="1776.3" y1="1484.48" x2="1789.4" y2="1484.48" stroke="#2f3990" stroke-width="1.3"/>
<circle cx="1782.85" cy="1434.15" r="2.5" fill="#383f9e"/>
<circle cx="1782.85" cy="1448.24" r="2.5" fill="#383f9e"/>
<circle cx="1782.85" cy="1451.26" r="2.5" fill="#383f9e"/>
<circle cx="1782.85" cy="1466.96" r="2.5" fill="#383f9e"/>
<circle cx="1782.85" cy="1484.48" r="2.5" fill="#383f9e"/>
<circle cx="1782.85" cy="1499.17" r="2.5" fill="#383f9e"/>
<circle cx="1782.85" cy="1502.19" r="2.5" fill="#383f9e"/>
<ellipse cx="1782.85" cy="1434.15" rx="3.4" ry="2.3" fill="#383f9e"/>
<line x1="1799.96" y1="1370.95" x2="1799.96" y2="1408.99" stroke="#333333" stroke-width="1.3"/>
<line x1="1799.96" y1="1493.13" x2="1799.96" y2="1504.61" stroke="#333333" stroke-width="1.3"/>
<rect x="1793.41" y="1408.99" width="13.1" height="84.14" fill="#fcdacb" stroke="#a9332a" stroke-width="1.3"/>
<line x1="1793.41" y1="1468.98" x2="1806.51" y2="1468.98" stroke="#a9332a" stroke-width="1.3"/>
<circle cx="1799.96" cy="1370.95" r="2.5" fill="#c42724"/>
<circle cx="1799.96" cy="1393.9" r="2.5" fill="#c42724"/>
<circle cx="1799.96" cy="1414.03" r="2.5" fill="#c42724"/>
<circle cx="1799.96" cy="1468.98" r="2.5" fill="#c42724"/>
<circle cx="1799.96" cy="1481.66" r="2.5" fill="#c42724"/>
<circle cx="1799.96" cy="1491.72" r="2.5" fill="#c42724"/>
<circle cx="1799.96" cy="1496.55" r="2.5" fill="#c42724"/>
<circle cx="1799.96" cy="1504.61" r="2.5" fill="#c42724"/>
<ellipse cx="1799.96" cy="1370.95" rx="3.4" ry="2.3" fill="#c42724"/>
<ellipse cx="1799.96" cy="1504.61" rx="3.4" ry="2.3" fill="#c42724"/>
<line x1="1834.17" y1="1353.64" x2="1834.17" y2="1399.94" stroke="#333333" stroke-width="1.3"/>
<line x1="1834.17" y1="1481.46" x2="1834.17" y2="1503.2" stroke="#333333" stroke-width="1.3"/>
<rect x="1827.62" y="1399.94" width="13.1" height="81.52" fill="#d9d9f5" stroke="#2f3990" stroke-width="1.3"/>
<line x1="1827.62" y1="1418.05" x2="1840.72" y2="1418.05" stroke="#2f3990" stroke-width="1.3"/>
<circle cx="1834.17" cy="1353.64" r="2.5" fill="#383f9e"/>
<circle cx="1834.17" cy="1395.1" r="2.5" fill="#383f9e"/>
<circle cx="1834.17" cy="1401.55" r="2.5" fill="#383f9e"/>
<circle cx="1834.17" cy="1416.64" r="2.5" fill="#383f9e"/>
<circle cx="1834.17" cy="1422.68" r="2.5" fill="#383f9e"/>
<circle cx="1834.17" cy="1474.41" r="2.5" fill="#383f9e"/>
<circle cx="1834.17" cy="1502.19" r="2.5" fill="#383f9e"/>
<circle cx="1834.17" cy="1504.2" r="2.5" fill="#383f9e"/>
<ellipse cx="1834.17" cy="1353.64" rx="3.4" ry="2.3" fill="#383f9e"/>
<ellipse cx="1834.17" cy="1503.2" rx="3.4" ry="2.3" fill="#383f9e"/>
<line x1="1851.38" y1="1340.76" x2="1851.38" y2="1370.35" stroke="#333333" stroke-width="1.3"/>
<line x1="1851.38" y1="1472" x2="1851.38" y2="1504.61" stroke="#333333" stroke-width="1.3"/>
<rect x="1844.83" y="1370.35" width="13.1" height="101.65" fill="#fcdacb" stroke="#a9332a" stroke-width="1.3"/>
<line x1="1844.83" y1="1413.22" x2="1857.93" y2="1413.22" stroke="#a9332a" stroke-width="1.3"/>
<circle cx="1851.38" cy="1340.76" r="2.5" fill="#c42724"/>
<circle cx="1851.38" cy="1369.34" r="2.5" fill="#c42724"/>
<circle cx="1851.38" cy="1370.95" r="2.5" fill="#c42724"/>
<circle cx="1851.38" cy="1397.92" r="2.5" fill="#c42724"/>
<circle cx="1851.38" cy="1413.22" r="2.5" fill="#c42724"/>
<circle cx="1851.38" cy="1424.09" r="2.5" fill="#c42724"/>
<circle cx="1851.38" cy="1466.36" r="2.5" fill="#c42724"/>
<circle cx="1851.38" cy="1489.11" r="2.5" fill="#c42724"/>
<circle cx="1851.38" cy="1504.61" r="2.5" fill="#c42724"/>
<ellipse cx="1851.38" cy="1340.76" rx="3.4" ry="2.3" fill="#c42724"/>
<ellipse cx="1851.38" cy="1504.61" rx="3.4" ry="2.3" fill="#c42724"/>
<line x1="1885.81" y1="1354.65" x2="1885.81" y2="1371.76" stroke="#333333" stroke-width="1.3"/>
<line x1="1885.81" y1="1438.18" x2="1885.81" y2="1466.56" stroke="#333333" stroke-width="1.3"/>
<rect x="1879.26" y="1371.76" width="13.1" height="66.43" fill="#d9d9f5" stroke="#2f3990" stroke-width="1.3"/>
<line x1="1879.26" y1="1393.9" x2="1892.36" y2="1393.9" stroke="#2f3990" stroke-width="1.3"/>
<circle cx="1885.81" cy="1354.65" r="2.5" fill="#383f9e"/>
<circle cx="1885.81" cy="1362.29" r="2.5" fill="#383f9e"/>
<circle cx="1885.81" cy="1374.98" r="2.5" fill="#383f9e"/>
<circle cx="1885.81" cy="1381.42" r="2.5" fill="#383f9e"/>
<circle cx="1885.81" cy="1393.9" r="2.5" fill="#383f9e"/>
<circle cx="1885.81" cy="1421.67" r="2.5" fill="#383f9e"/>
<circle cx="1885.81" cy="1431.74" r="2.5" fill="#383f9e"/>
<circle cx="1885.81" cy="1456.9" r="2.5" fill="#383f9e"/>
<circle cx="1885.81" cy="1466.56" r="2.5" fill="#383f9e"/>
<ellipse cx="1885.81" cy="1354.65" rx="3.4" ry="2.3" fill="#383f9e"/>
<ellipse cx="1885.81" cy="1466.56" rx="3.4" ry="2.3" fill="#383f9e"/>
<line x1="1903.02" y1="1273.33" x2="1903.02" y2="1316" stroke="#333333" stroke-width="1.3"/>
<line x1="1903.02" y1="1437.38" x2="1903.02" y2="1494.54" stroke="#333333" stroke-width="1.3"/>
<rect x="1896.47" y="1316" width="13.1" height="121.38" fill="#fcdacb" stroke="#a9332a" stroke-width="1.3"/>
<line x1="1896.47" y1="1380.41" x2="1909.57" y2="1380.41" stroke="#a9332a" stroke-width="1.3"/>
<circle cx="1903.02" cy="1273.33" r="2.5" fill="#c42724"/>
<circle cx="1903.02" cy="1302.91" r="2.5" fill="#c42724"/>
<circle cx="1903.02" cy="1320.63" r="2.5" fill="#c42724"/>
<circle cx="1903.02" cy="1345.59" r="2.5" fill="#c42724"/>
<circle cx="1903.02" cy="1380.41" r="2.5" fill="#c42724"/>
<circle cx="1903.02" cy="1383.43" r="2.5" fill="#c42724"/>
<circle cx="1903.02" cy="1422.68" r="2.5" fill="#c42724"/>
<circle cx="1903.02" cy="1479.04" r="2.5" fill="#c42724"/>
<circle cx="1903.02" cy="1494.54" r="2.5" fill="#c42724"/>
<ellipse cx="1903.02" cy="1273.33" rx="3.4" ry="2.3" fill="#c42724"/>
<ellipse cx="1903.02" cy="1494.54" rx="3.4" ry="2.3" fill="#c42724"/>
<line x1="1937.64" y1="1270.31" x2="1937.64" y2="1304.32" stroke="#333333" stroke-width="1.3"/>
<line x1="1937.64" y1="1375.38" x2="1937.64" y2="1395.1" stroke="#333333" stroke-width="1.3"/>
<rect x="1931.09" y="1304.32" width="13.1" height="71.05" fill="#d9d9f5" stroke="#2f3990" stroke-width="1.3"/>
<line x1="1931.09" y1="1345.59" x2="1944.19" y2="1345.59" stroke="#2f3990" stroke-width="1.3"/>
<circle cx="1937.64" cy="1270.31" r="2.5" fill="#383f9e"/>
<circle cx="1937.64" cy="1297.88" r="2.5" fill="#383f9e"/>
<circle cx="1937.64" cy="1305.93" r="2.5" fill="#383f9e"/>
<circle cx="1937.64" cy="1343.57" r="2.5" fill="#383f9e"/>
<circle cx="1937.64" cy="1346.19" r="2.5" fill="#383f9e"/>
<circle cx="1937.64" cy="1348.81" r="2.5" fill="#383f9e"/>
<circle cx="1937.64" cy="1375.38" r="2.5" fill="#383f9e"/>
<circle cx="1937.64" cy="1395.1" r="2.5" fill="#383f9e"/>
<ellipse cx="1937.64" cy="1270.31" rx="3.4" ry="2.3" fill="#383f9e"/>
<ellipse cx="1937.64" cy="1395.1" rx="3.4" ry="2.3" fill="#383f9e"/>
<line x1="1954.89" y1="1284.8" x2="1954.89" y2="1313.38" stroke="#333333" stroke-width="1.3"/>
<line x1="1954.89" y1="1381.42" x2="1954.89" y2="1423.29" stroke="#333333" stroke-width="1.3"/>
<rect x="1948.34" y="1313.38" width="13.1" height="68.04" fill="#fcdacb" stroke="#a9332a" stroke-width="1.3"/>
<line x1="1948.34" y1="1359.28" x2="1961.44" y2="1359.28" stroke="#a9332a" stroke-width="1.3"/>
<circle cx="1954.89" cy="1284.8" r="2.5" fill="#c42724"/>
<circle cx="1954.89" cy="1287.82" r="2.5" fill="#c42724"/>
<circle cx="1954.89" cy="1321.03" r="2.5" fill="#c42724"/>
<circle cx="1954.89" cy="1330.69" r="2.5" fill="#c42724"/>
<circle cx="1954.89" cy="1359.28" r="2.5" fill="#c42724"/>
<circle cx="1954.89" cy="1366.32" r="2.5" fill="#c42724"/>
<circle cx="1954.89" cy="1372.36" r="2.5" fill="#c42724"/>
<circle cx="1954.89" cy="1406.58" r="2.5" fill="#c42724"/>
<circle cx="1954.89" cy="1423.29" r="2.5" fill="#c42724"/>
<ellipse cx="1954.89" cy="1284.8" rx="3.4" ry="2.3" fill="#c42724"/>
<ellipse cx="1954.89" cy="1423.29" rx="3.4" ry="2.3" fill="#c42724"/>
<line x1="1989.11" y1="1262.25" x2="1989.11" y2="1289.83" stroke="#333333" stroke-width="1.3"/>
<line x1="1989.11" y1="1360.28" x2="1989.11" y2="1403.16" stroke="#333333" stroke-width="1.3"/>
<rect x="1982.56" y="1289.83" width="13.1" height="70.45" fill="#d9d9f5" stroke="#2f3990" stroke-width="1.3"/>
<line x1="1982.56" y1="1308.95" x2="1995.66" y2="1308.95" stroke="#2f3990" stroke-width="1.3"/>
<circle cx="1989.11" cy="1262.25" r="2.5" fill="#383f9e"/>
<circle cx="1989.11" cy="1280.37" r="2.5" fill="#383f9e"/>
<circle cx="1989.11" cy="1293.86" r="2.5" fill="#383f9e"/>
<circle cx="1989.11" cy="1308.95" r="2.5" fill="#383f9e"/>
<circle cx="1989.11" cy="1318.41" r="2.5" fill="#383f9e"/>
<circle cx="1989.11" cy="1358.27" r="2.5" fill="#383f9e"/>
<circle cx="1989.11" cy="1365.72" r="2.5" fill="#383f9e"/>
<circle cx="1989.11" cy="1403.16" r="2.5" fill="#383f9e"/>
<ellipse cx="1989.11" cy="1262.25" rx="3.4" ry="2.3" fill="#383f9e"/>
<ellipse cx="1989.11" cy="1403.16" rx="3.4" ry="2.3" fill="#383f9e"/>
<line x1="2006.32" y1="1230.05" x2="2006.32" y2="1265.07" stroke="#333333" stroke-width="1.3"/>
<line x1="2006.32" y1="1319.42" x2="2006.32" y2="1372.36" stroke="#333333" stroke-width="1.3"/>
<rect x="1999.77" y="1265.07" width="13.1" height="54.35" fill="#fcdacb" stroke="#a9332a" stroke-width="1.3"/>
<line x1="1999.77" y1="1300.3" x2="2012.87" y2="1300.3" stroke="#a9332a" stroke-width="1.3"/>
<circle cx="2006.32" cy="1230.05" r="2.5" fill="#c42724"/>
<circle cx="2006.32" cy="1259.64" r="2.5" fill="#c42724"/>
<circle cx="2006.32" cy="1267.69" r="2.5" fill="#c42724"/>
<circle cx="2006.32" cy="1280.77" r="2.5" fill="#c42724"/>
<circle cx="2006.32" cy="1300.3" r="2.5" fill="#c42724"/>
<circle cx="2006.32" cy="1305.33" r="2.5" fill="#c42724"/>
<circle cx="2006.32" cy="1311.37" r="2.5" fill="#c42724"/>
<circle cx="2006.32" cy="1342.17" r="2.5" fill="#c42724"/>
<circle cx="2006.32" cy="1372.36" r="2.5" fill="#c42724"/>
<ellipse cx="2006.32" cy="1230.05" rx="3.4" ry="2.3" fill="#c42724"/>
<ellipse cx="2006.32" cy="1372.36" rx="3.4" ry="2.3" fill="#c42724"/>
<line x1="2040.84" y1="1254.61" x2="2040.84" y2="1266.28" stroke="#333333" stroke-width="1.3"/>
<line x1="2040.84" y1="1302.51" x2="2040.84" y2="1322.64" stroke="#333333" stroke-width="1.3"/>
<rect x="2034.29" y="1266.28" width="13.1" height="36.23" fill="#d9d9f5" stroke="#2f3990" stroke-width="1.3"/>
<line x1="2034.29" y1="1285.2" x2="2047.39" y2="1285.2" stroke="#2f3990" stroke-width="1.3"/>
<circle cx="2040.84" cy="1254.61" r="2.5" fill="#383f9e"/>
<circle cx="2040.84" cy="1262.66" r="2.5" fill="#383f9e"/>
<circle cx="2040.84" cy="1268.7" r="2.5" fill="#383f9e"/>
<circle cx="2040.84" cy="1285.2" r="2.5" fill="#383f9e"/>
<circle cx="2040.84" cy="1293.86" r="2.5" fill="#383f9e"/>
<circle cx="2040.84" cy="1296.47" r="2.5" fill="#383f9e"/>
<circle cx="2040.84" cy="1322.64" r="2.5" fill="#383f9e"/>
<ellipse cx="2040.84" cy="1254.61" rx="3.4" ry="2.3" fill="#383f9e"/>
<ellipse cx="2040.84" cy="1322.64" rx="3.4" ry="2.3" fill="#383f9e"/>
<line x1="2057.95" y1="1230.05" x2="2057.95" y2="1252.19" stroke="#333333" stroke-width="1.3"/>
<line x1="2057.95" y1="1277.15" x2="2057.95" y2="1280.37" stroke="#333333" stroke-width="1.3"/>
<rect x="2051.4" y="1252.19" width="13.1" height="24.96" fill="#fcdacb" stroke="#a9332a" stroke-width="1.3"/>
<line x1="2051.4" y1="1267.29" x2="2064.5" y2="1267.29" stroke="#a9332a" stroke-width="1.3"/>
<circle cx="2057.95" cy="1230.05" r="2.5" fill="#c42724"/>
<circle cx="2057.95" cy="1249.57" r="2.5" fill="#c42724"/>
<circle cx="2057.95" cy="1254.2" r="2.5" fill="#c42724"/>
<circle cx="2057.95" cy="1267.29" r="2.5" fill="#c42724"/>
<circle cx="2057.95" cy="1271.71" r="2.5" fill="#c42724"/>
<circle cx="2057.95" cy="1276.75" r="2.5" fill="#c42724"/>
<circle cx="2057.95" cy="1280.37" r="2.5" fill="#c42724"/>
<circle cx="2057.95" cy="1316.6" r="2.5" fill="#c42724"/>
<ellipse cx="2057.95" cy="1230.05" rx="3.4" ry="2.3" fill="#c42724"/>
<ellipse cx="2057.95" cy="1280.37" rx="3.4" ry="2.3" fill="#c42724"/>
<line x1="2092.37" y1="1227.43" x2="2092.37" y2="1258.63" stroke="#333333" stroke-width="1.3"/>
<line x1="2092.37" y1="1284.4" x2="2092.37" y2="1296.47" stroke="#333333" stroke-width="1.3"/>
<rect x="2085.82" y="1258.63" width="13.1" height="25.76" fill="#d9d9f5" stroke="#2f3990" stroke-width="1.3"/>
<line x1="2085.82" y1="1267.69" x2="2098.92" y2="1267.69" stroke="#2f3990" stroke-width="1.3"/>
<circle cx="2092.37" cy="1227.43" r="2.5" fill="#383f9e"/>
<circle cx="2092.37" cy="1247.96" r="2.5" fill="#383f9e"/>
<circle cx="2092.37" cy="1262.66" r="2.5" fill="#383f9e"/>
<circle cx="2092.37" cy="1267.69" r="2.5" fill="#383f9e"/>
<circle cx="2092.37" cy="1270.71" r="2.5" fill="#383f9e"/>
<circle cx="2092.37" cy="1280.37" r="2.5" fill="#383f9e"/>
<circle cx="2092.37" cy="1296.47" r="2.5" fill="#383f9e"/>
<circle cx="2092.37" cy="1323.04" r="2.5" fill="#383f9e"/>
<ellipse cx="2092.37" cy="1227.43" rx="3.4" ry="2.3" fill="#383f9e"/>
<ellipse cx="2092.37" cy="1296.47" rx="3.4" ry="2.3" fill="#383f9e"/>
<line x1="2109.9" y1="1224.68" x2="2109.9" y2="1248.39" stroke="#333333" stroke-width="1.3"/>
<line x1="2109.9" y1="1306.73" x2="2109.9" y2="1321.7" stroke="#333333" stroke-width="1.3"/>
<rect x="2103.35" y="1248.39" width="13.1" height="58.34" fill="#fcdacb" stroke="#a9332a" stroke-width="1.3"/>
<line x1="2103.35" y1="1270.85" x2="2116.45" y2="1270.85" stroke="#a9332a" stroke-width="1.3"/>
<circle cx="2109.9" cy="1224.68" r="2.5" fill="#c42724"/>
<circle cx="2109.9" cy="1228.74" r="2.5" fill="#c42724"/>
<circle cx="2109.9" cy="1254.32" r="2.5" fill="#c42724"/>
<circle cx="2109.9" cy="1259.93" r="2.5" fill="#c42724"/>
<circle cx="2109.9" cy="1270.85" r="2.5" fill="#c42724"/>
<circle cx="2109.9" cy="1285.52" r="2.5" fill="#c42724"/>
<circle cx="2109.9" cy="1305.17" r="2.5" fill="#c42724"/>
<circle cx="2109.9" cy="1311.41" r="2.5" fill="#c42724"/>
<circle cx="2109.9" cy="1321.7" r="2.5" fill="#c42724"/>
<ellipse cx="2109.9" cy="1224.68" rx="3.4" ry="2.3" fill="#c42724"/>
<ellipse cx="2109.9" cy="1321.7" rx="3.4" ry="2.3" fill="#c42724"/>
<text x="4.84" y="1709" font-size="54" fill="#000">g</text>
<line x1="229" y1="1730" x2="229" y2="2159.6" stroke="#262626" stroke-width="1.15"/>
<line x1="229" y1="2159.6" x2="234.5" y2="2159.6" stroke="#262626" stroke-width="1.15"/>
<text x="161.83" y="2164.4" font-size="31" fill="#262626">-0.2</text>
<line x1="229" y1="2088" x2="234.5" y2="2088" stroke="#262626" stroke-width="1.15"/>
<text x="197.63" y="2096.6" font-size="31" fill="#262626">0</text>
<line x1="229" y1="2016.4" x2="234.5" y2="2016.4" stroke="#262626" stroke-width="1.15"/>
<text x="172.06" y="2024.5" font-size="31" fill="#262626">0.2</text>
<line x1="229" y1="1944.8" x2="234.5" y2="1944.8" stroke="#262626" stroke-width="1.15"/>
<text x="171.44" y="1953.1" font-size="31" fill="#262626">0.4</text>
<line x1="229" y1="1873.2" x2="234.5" y2="1873.2" stroke="#262626" stroke-width="1.15"/>
<text x="171.91" y="1880.3" font-size="31" fill="#262626">0.6</text>
<line x1="229" y1="1801.6" x2="234.5" y2="1801.6" stroke="#262626" stroke-width="1.15"/>
<text x="171.75" y="1807.7" font-size="31" fill="#262626">0.8</text>
<line x1="229" y1="1730" x2="234.5" y2="1730" stroke="#262626" stroke-width="1.15"/>
<text x="197.94" y="1735.6" font-size="31" fill="#262626">1</text>
<line x1="294.05" y1="2159.6" x2="554.25" y2="2159.6" stroke="#262626" stroke-width="1.15"/>
<line x1="294.05" y1="2159.6" x2="294.05" y2="2154.4" stroke="#262626" stroke-width="1.15"/>
<text x="272.5" y="2200.3" font-size="31" fill="#262626">0.5</text>
<line x1="359.1" y1="2159.6" x2="359.1" y2="2154.4" stroke="#262626" stroke-width="1.15"/>
<text x="350.11" y="2200.3" font-size="31" fill="#262626">1</text>
<line x1="424.15" y1="2159.6" x2="424.15" y2="2154.4" stroke="#262626" stroke-width="1.15"/>
<text x="402.06" y="2200.3" font-size="31" fill="#262626">1.5</text>
<line x1="489.2" y1="2159.6" x2="489.2" y2="2154.4" stroke="#262626" stroke-width="1.15"/>
<text x="480.6" y="2200.3" font-size="31" fill="#262626">2</text>
<line x1="554.25" y1="2159.6" x2="554.25" y2="2154.4" stroke="#262626" stroke-width="1.15"/>
<text x="532.55" y="2200.3" font-size="31" fill="#262626">2.5</text>
<text x="351.34" y="2244.5" font-size="31" fill="#262626" textLength="205.51" lengthAdjust="spacingAndGlyphs">frequency (Hz)</text>
<text transform="translate(126.9 2068.01) rotate(-90)" x="0" y="0" font-size="31" fill="#262626" textLength="258.25" lengthAdjust="spacingAndGlyphs">performance index</text>
<line x1="228" y1="2088" x2="549.5" y2="2088" stroke="#5a5a5a" stroke-width="1.3" stroke-dasharray="8.3 7.4"/>
<circle cx="506.76" cy="1737.86" r="2.5" fill="#383f9e"/>
<circle cx="476.95" cy="1781.86" r="2.5" fill="#383f9e"/>
<circle cx="472.22" cy="1794.17" r="2.5" fill="#383f9e"/>
<circle cx="469.38" cy="1832.02" r="2.5" fill="#383f9e"/>
<circle cx="476.95" cy="1832.02" r="2.5" fill="#383f9e"/>
<circle cx="424.9" cy="1845.51" r="2.5" fill="#383f9e"/>
<circle cx="394.61" cy="1863.73" r="2.5" fill="#383f9e"/>
<circle cx="426.32" cy="1896.85" r="2.5" fill="#383f9e"/>
<circle cx="483.34" cy="1896.85" r="2.5" fill="#383f9e"/>
<circle cx="391.54" cy="1913.42" r="2.5" fill="#383f9e"/>
<circle cx="363.38" cy="1934.24" r="2.5" fill="#383f9e"/>
<circle cx="379.94" cy="1934.24" r="2.5" fill="#383f9e"/>
<circle cx="403.37" cy="1934.71" r="2.5" fill="#383f9e"/>
<circle cx="429.39" cy="1934.71" r="2.5" fill="#383f9e"/>
<circle cx="439.8" cy="1934.71" r="2.5" fill="#383f9e"/>
<circle cx="461.57" cy="1934.24" r="2.5" fill="#383f9e"/>
<circle cx="375.45" cy="1957.42" r="2.5" fill="#383f9e"/>
<circle cx="398.16" cy="1964.52" r="2.5" fill="#383f9e"/>
<circle cx="407.63" cy="1985.58" r="2.5" fill="#383f9e"/>
<circle cx="380.89" cy="1994.1" r="2.5" fill="#383f9e"/>
<circle cx="332.15" cy="2008.77" r="2.5" fill="#383f9e"/>
<circle cx="357.94" cy="2007.58" r="2.5" fill="#383f9e"/>
<circle cx="399.11" cy="2031.72" r="2.5" fill="#383f9e"/>
<circle cx="295.48" cy="2058.93" r="2.5" fill="#383f9e"/>
<circle cx="330.02" cy="2072.65" r="2.5" fill="#383f9e"/>
<circle cx="272.29" cy="2078.33" r="2.5" fill="#383f9e"/>
<circle cx="344.22" cy="2087.32" r="2.5" fill="#383f9e"/>
<circle cx="271.58" cy="2093.47" r="2.5" fill="#383f9e"/>
<circle cx="314.88" cy="2093.47" r="2.5" fill="#383f9e"/>
<circle cx="274.18" cy="2128.96" r="2.5" fill="#383f9e"/>
<circle cx="430.81" cy="1780.92" r="2.5" fill="#c42724"/>
<circle cx="469.62" cy="1780.92" r="2.5" fill="#c42724"/>
<circle cx="465.12" cy="1883.37" r="2.5" fill="#c42724"/>
<circle cx="469.38" cy="1883.37" r="2.5" fill="#c42724"/>
<circle cx="504.87" cy="1832.02" r="2.5" fill="#c42724"/>
<circle cx="504.87" cy="1883.37" r="2.5" fill="#c42724"/>
<circle cx="504.87" cy="1901.11" r="2.5" fill="#c42724"/>
<circle cx="479.08" cy="1902.77" r="2.5" fill="#c42724"/>
<circle cx="418.51" cy="1838.41" r="2.5" fill="#c42724"/>
<circle cx="353.92" cy="1857.81" r="2.5" fill="#c42724"/>
<circle cx="339.48" cy="1908.92" r="2.5" fill="#c42724"/>
<circle cx="393.67" cy="1908.92" r="2.5" fill="#c42724"/>
<circle cx="444.3" cy="1907.74" r="2.5" fill="#c42724"/>
<circle cx="442.17" cy="1922.41" r="2.5" fill="#c42724"/>
<circle cx="440.04" cy="1938.02" r="2.5" fill="#c42724"/>
<circle cx="383.02" cy="1956.24" r="2.5" fill="#c42724"/>
<circle cx="373.32" cy="1961.45" r="2.5" fill="#c42724"/>
<circle cx="426.32" cy="1960.26" r="2.5" fill="#c42724"/>
<circle cx="376.39" cy="2012.79" r="2.5" fill="#c42724"/>
<circle cx="338.77" cy="2011.13" r="2.5" fill="#c42724"/>
<circle cx="278.91" cy="2002.85" r="2.5" fill="#c42724"/>
<circle cx="269.45" cy="2013.5" r="2.5" fill="#c42724"/>
<circle cx="300.44" cy="2036.69" r="2.5" fill="#c42724"/>
<circle cx="302.34" cy="2056.09" r="2.5" fill="#c42724"/>
<circle cx="339.48" cy="2064.6" r="2.5" fill="#c42724"/>
<circle cx="361.25" cy="2083.3" r="2.5" fill="#c42724"/>
<circle cx="347.29" cy="2088.03" r="2.5" fill="#c42724"/>
<circle cx="348.24" cy="2099.15" r="2.5" fill="#c42724"/>
<circle cx="280.81" cy="2115.71" r="2.5" fill="#c42724"/>
<polyline points="300,2089.75 303.17,2087.25 306.34,2084.65 309.51,2081.96 312.68,2079.17 315.85,2076.29 319.02,2073.31 322.19,2070.25 325.36,2067.1 328.53,2063.85 331.69,2060.53 334.86,2057.11 338.03,2053.62 341.2,2050.04 344.37,2046.39 347.54,2042.65 350.71,2038.84 353.88,2034.96 357.05,2031 360.22,2026.97 363.39,2022.86 366.56,2018.69 369.73,2014.45 372.9,2010.15 376.07,2005.78 379.24,2001.35 382.41,1996.86 385.58,1992.31 388.75,1987.7 391.92,1983.04 395.08,1978.32 398.25,1973.54 401.42,1968.72 404.59,1963.84 407.76,1958.92 410.93,1953.95 414.1,1948.93 417.27,1943.87 420.44,1938.77 423.61,1933.62 426.78,1928.44 429.95,1923.22 433.12,1917.96 436.29,1912.67 439.46,1907.35 442.63,1901.99 445.8,1896.61 448.97,1891.2 452.14,1885.76 455.31,1880.29 458.47,1874.8 461.64,1869.29 464.81,1863.76 467.98,1858.21 471.15,1852.64 474.32,1847.06 477.49,1841.46 480.66,1835.85 483.83,1830.22 487,1824.59" fill="none" stroke="#d3281f" stroke-width="4.3" stroke-linejoin="round" stroke-linecap="round" stroke-linecap="butt"/>
<polyline points="287,2107.47 290.25,2103.73 293.51,2099.9 296.76,2095.98 300.02,2091.97 303.27,2087.88 306.53,2083.7 309.78,2079.45 313.03,2075.11 316.29,2070.71 319.54,2066.23 322.8,2061.68 326.05,2057.07 329.31,2052.39 332.56,2047.65 335.81,2042.85 339.07,2037.99 342.32,2033.08 345.58,2028.12 348.83,2023.12 352.08,2018.06 355.34,2012.97 358.59,2007.83 361.85,2002.66 365.1,1997.45 368.36,1992.2 371.61,1986.93 374.86,1981.63 378.12,1976.31 381.37,1970.96 384.63,1965.6 387.88,1960.22 391.14,1954.82 394.39,1949.42 397.64,1944 400.9,1938.58 404.15,1933.15 407.41,1927.72 410.66,1922.3 413.92,1916.88 417.17,1911.47 420.42,1906.06 423.68,1900.67 426.93,1895.29 430.19,1889.93 433.44,1884.59 436.69,1879.27 439.95,1873.98 443.2,1868.72 446.46,1863.48 449.71,1858.28 452.97,1853.12 456.22,1847.99 459.47,1842.91 462.73,1837.87 465.98,1832.87 469.24,1827.93 472.49,1823.03 475.75,1818.19 479,1813.41" fill="none" stroke="#3c48ae" stroke-width="4.3" stroke-linejoin="round" stroke-linecap="round" stroke-linecap="butt"/>
</svg>
</body></html>
